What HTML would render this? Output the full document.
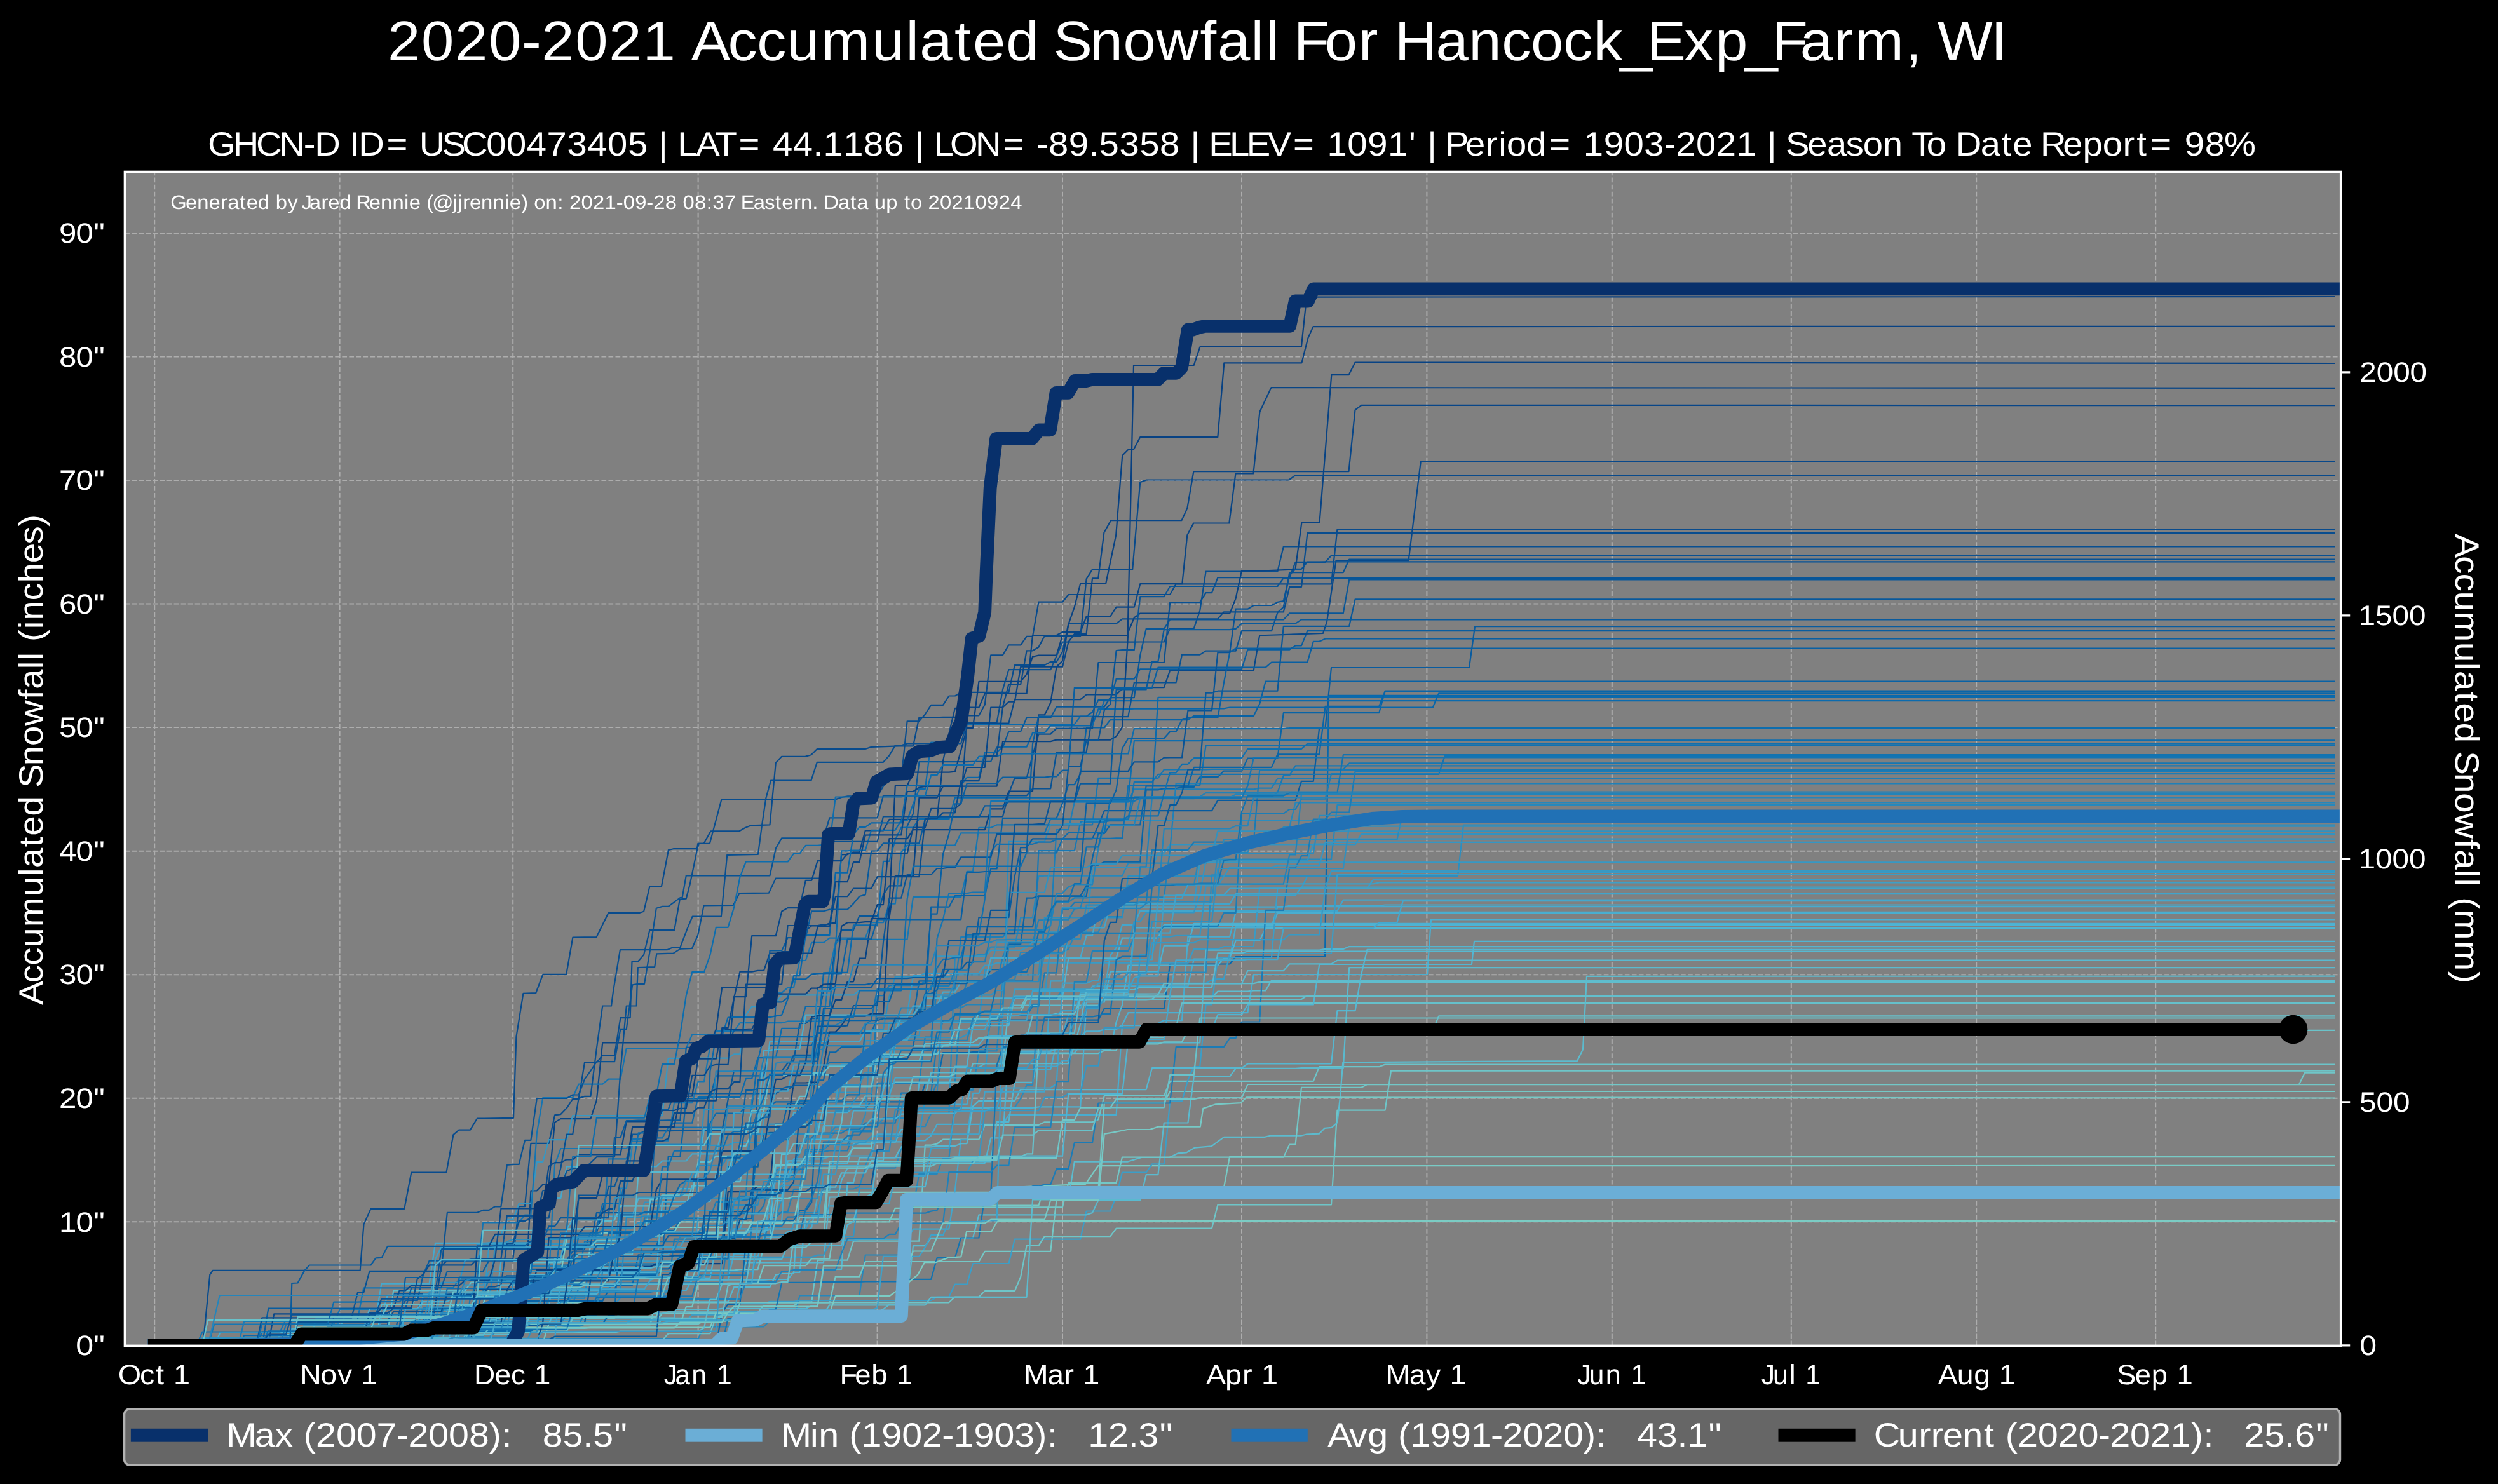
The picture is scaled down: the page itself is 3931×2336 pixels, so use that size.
<!DOCTYPE html>
<html><head><meta charset="utf-8"><title>Accumulated Snowfall</title>
<style>html,body{margin:0;padding:0;background:#000;}svg{display:block;will-change:transform;}text{font-family:"Liberation Sans",sans-serif;white-space:pre;text-rendering:geometricPrecision;}</style></head><body>
<svg width="3931" height="2336" viewBox="0 0 3931 2336">
<rect x="0" y="0" width="3931" height="2336" fill="#000"/>
<defs><clipPath id="ax"><rect x="196.4" y="270.4" width="3487.2" height="1847.9"/></clipPath></defs>
<rect x="196.4" y="270.4" width="3487.2" height="1847.9" fill="#808080"/>
<path d="M243.2 2118.3 V270.4 M534.6 2118.3 V270.4 M807.2 2118.3 V270.4 M1098.6 2118.3 V270.4 M1380.6 2118.3 V270.4 M1672.0 2118.3 V270.4 M1954.0 2118.3 V270.4 M2245.4 2118.3 V270.4 M2536.8 2118.3 V270.4 M2818.8 2118.3 V270.4 M3110.2 2118.3 V270.4 M3392.2 2118.3 V270.4 M196.4 2117.9 H3683.6 M196.4 1923.3 H3683.6 M196.4 1728.8 H3683.6 M196.4 1534.2 H3683.6 M196.4 1339.7 H3683.6 M196.4 1145.1 H3683.6 M196.4 950.5 H3683.6 M196.4 756.0 H3683.6 M196.4 561.4 H3683.6 M196.4 366.9 H3683.6" stroke="#adadad" stroke-width="2" stroke-dasharray="7.7 3.33" fill="none"/>
<g clip-path="url(#ax)" fill="none" stroke-linejoin="round">
<g stroke-width="2.2" stroke-linecap="butt">
<path d="M243.2 2118.3 L656.8 2118.3 L666.2 2095.3 L779.0 2095.3 L788.4 2067.0 L854.2 2067.0 L863.6 2044.0 L920.0 2044.0 L929.4 1967.8 L995.2 1967.8 L1004.6 1947.3 L1032.8 1947.3 L1042.2 1921.0 L1155.0 1921.0 L1164.4 1909.1 L1286.6 1909.1 L1296.0 1871.5 L1343.0 1871.5 L1352.4 1867.8 L1361.8 1838.6 L1408.8 1838.6 L1418.2 1808.5 L1427.6 1773.2 L1455.8 1773.2 L1465.2 1752.7 L1493.4 1752.7 L1502.8 1505.6 L1531.0 1505.6 L1540.4 1502.5 L1549.8 1502.5 L1559.2 1490.6 L1596.8 1490.6 L1606.2 1444.4 L1625.0 1444.4 L1634.4 1379.4 L1643.8 1378.6 L1766.0 1378.6 L1775.4 1358.7 L1897.6 1358.7 L1907.0 1352.7 L2095.0 1352.7 L2104.4 1267.2 L2382.6 1267.2 L3674.2 1267.2" stroke="#2788bc"/>
<path d="M243.2 2118.3 L572.2 2118.3 L581.6 2072.0 L600.4 2072.0 L609.8 2038.9 L619.2 2038.9 L628.6 2038.1 L779.0 2038.1 L788.4 2032.8 L844.8 2032.8 L854.2 2031.0 L1079.8 2031.0 L1089.2 2014.4 L1145.6 2014.4 L1155.0 1973.7 L1183.2 1973.7 L1192.6 1951.3 L1202.0 1951.3 L1211.4 1885.4 L1230.2 1885.4 L1239.6 1802.4 L1249.0 1751.1 L1333.6 1751.1 L1343.0 1742.9 L1427.6 1742.9 L1437.0 1738.5 L1521.6 1738.5 L1531.0 1697.4 L1578.0 1697.4 L1587.4 1683.2 L1653.2 1683.2 L1662.6 1641.7 L1681.4 1641.7 L1690.8 1573.9 L1709.6 1573.9 L1719.0 1552.4 L1869.4 1552.4 L1878.8 1509.6 L1935.2 1509.6 L1944.6 1458.9 L2001.0 1458.9 L2010.4 1427.2 L2198.1 1427.2 L3674.2 1427.2" stroke="#47abcf"/>
<path d="M243.2 2118.3 L666.2 2118.3 L675.6 2082.8 L685.0 2079.2 L844.8 2079.2 L854.2 2075.2 L891.8 2075.2 L901.2 2052.2 L910.6 2028.2 L957.6 2028.2 L967.0 2019.3 L1136.2 2019.3 L1145.6 1946.2 L1155.0 1944.0 L1173.8 1944.0 L1183.2 1931.3 L1192.6 1871.4 L1211.4 1871.4 L1220.8 1841.3 L1258.4 1841.3 L1267.8 1812.8 L1296.0 1812.8 L1305.4 1811.4 L1333.6 1811.4 L1343.0 1781.3 L1371.2 1781.3 L1380.6 1704.8 L1446.4 1704.8 L1455.8 1632.6 L1465.2 1632.6 L1474.6 1556.3 L1502.8 1556.3 L1512.2 1475.2 L1578.0 1475.2 L1587.4 1464.2 L1643.8 1464.2 L1653.2 1456.8 L1662.6 1306.2 L1681.4 1306.2 L1690.8 1262.6 L1775.4 1262.6 L1784.8 1242.3 L1972.8 1242.3 L1982.2 1240.6 L2001.0 1240.6 L2010.4 1225.5 L2262.3 1225.5 L3674.2 1225.5" stroke="#1e7eb7"/>
<path d="M243.2 2118.3 L600.4 2118.3 L609.8 2091.8 L628.6 2091.8 L638.0 2061.1 L656.8 2061.1 L666.2 2043.9 L816.6 2043.9 L826.0 2012.7 L835.4 1997.8 L873.0 1997.8 L882.4 1991.6 L1042.2 1991.6 L1051.6 1820.8 L1070.4 1820.8 L1079.8 1729.4 L1108.0 1729.4 L1117.4 1727.7 L1126.8 1693.4 L1202.0 1693.4 L1211.4 1645.9 L1277.2 1645.9 L1286.6 1625.9 L1371.2 1625.9 L1380.6 1602.5 L1437.0 1602.5 L1446.4 1544.3 L1521.6 1544.3 L1531.0 1543.6 L1549.8 1543.6 L1559.2 1526.2 L1578.0 1526.2 L1587.4 1486.4 L1606.2 1486.4 L1615.6 1413.7 L1625.0 1413.7 L1634.4 1410.4 L1700.2 1410.4 L1709.6 1394.6 L1719.0 1361.6 L1728.4 1361.6 L1737.8 1356.7 L1794.2 1356.7 L1803.6 1243.4 L1822.4 1243.4 L1831.8 1241.0 L1850.6 1241.0 L1860.0 1238.9 L1878.8 1238.9 L1888.2 1223.2 L1916.4 1223.2 L1925.8 1213.6 L1954.0 1213.6 L1963.4 1193.5 L2010.4 1193.5 L2019.8 1122.2 L2170.2 1122.2 L2179.6 1087.5 L2424.0 1087.5 L3674.2 1087.5" stroke="#0864a7"/>
<path d="M243.2 2118.3 L581.6 2118.3 L591.0 2108.7 L600.4 2085.6 L609.8 2085.6 L619.2 2036.5 L685.0 2036.5 L694.4 1966.2 L835.4 1966.2 L844.8 1965.9 L920.0 1965.9 L929.4 1940.6 L938.8 1940.6 L948.2 1906.2 L957.6 1867.8 L967.0 1867.8 L976.4 1842.9 L985.8 1842.9 L995.2 1785.6 L1004.6 1785.6 L1014.0 1780.1 L1051.6 1780.1 L1061.0 1779.9 L1136.2 1779.9 L1145.6 1731.4 L1155.0 1685.4 L1230.2 1685.4 L1239.6 1673.4 L1249.0 1669.8 L1258.4 1611.0 L1267.8 1611.0 L1277.2 1603.2 L1286.6 1603.2 L1296.0 1560.7 L1305.4 1560.7 L1314.8 1487.0 L1324.2 1464.1 L1343.0 1464.1 L1352.4 1441.8 L1380.6 1441.8 L1390.0 1408.3 L1399.4 1394.4 L1418.2 1394.4 L1427.6 1300.5 L1437.0 1280.9 L1446.4 1199.1 L1521.6 1199.1 L1531.0 1198.8 L1559.2 1198.8 L1568.6 1176.3 L1578.0 1176.3 L1587.4 1151.4 L1606.2 1151.4 L1615.6 1130.0 L1653.2 1130.0 L1662.6 1112.7 L1737.8 1112.7 L1747.2 1098.2 L1784.8 1098.2 L1794.2 1031.7 L1803.6 989.9 L1831.8 989.9 L1841.2 975.4 L2019.8 975.4 L2029.2 965.4 L2113.8 965.4 L2123.2 912.4 L2325.3 912.4 L3674.2 912.4" stroke="#085799"/>
<path d="M243.2 2118.3 L553.4 2118.3 L562.8 2111.1 L675.6 2111.1 L685.0 2080.5 L807.2 2080.5 L816.6 2043.3 L826.0 2043.3 L835.4 2030.6 L844.8 2030.6 L854.2 2010.0 L910.6 2010.0 L920.0 1954.4 L985.8 1954.4 L995.2 1954.2 L1098.6 1954.2 L1108.0 1952.8 L1117.4 1952.2 L1136.2 1952.2 L1145.6 1918.1 L1155.0 1918.1 L1164.4 1910.1 L1192.6 1910.1 L1202.0 1897.7 L1211.4 1849.8 L1249.0 1849.8 L1258.4 1799.6 L1267.8 1799.6 L1277.2 1745.4 L1361.8 1745.4 L1371.2 1733.4 L1380.6 1567.2 L1390.0 1567.2 L1399.4 1551.1 L1446.4 1551.1 L1455.8 1544.4 L1625.0 1544.4 L1634.4 1339.2 L1690.8 1339.2 L1700.2 1294.2 L1737.8 1294.2 L1747.2 1291.5 L1775.4 1291.5 L1784.8 1254.4 L2001.0 1254.4 L2010.4 1247.3 L2019.8 1220.8 L2029.2 1220.8 L2038.6 1205.3 L2273.5 1205.3 L3674.2 1205.3" stroke="#1878b4"/>
<path d="M243.2 2118.3 L337.2 2118.3 L346.6 2109.2 L534.6 2109.2 L544.0 2103.6 L685.0 2103.6 L694.4 2101.5 L741.4 2101.5 L750.8 1958.0 L929.4 1958.0 L938.8 1954.5 L995.2 1954.5 L1004.6 1940.8 L1014.0 1892.6 L1098.6 1892.6 L1108.0 1873.1 L1117.4 1802.8 L1145.6 1802.8 L1155.0 1799.0 L1202.0 1799.0 L1211.4 1769.7 L1277.2 1769.7 L1286.6 1719.6 L1352.4 1719.6 L1361.8 1638.2 L1399.4 1638.2 L1408.8 1633.2 L1512.2 1633.2 L1521.6 1628.6 L1531.0 1610.6 L1540.4 1610.6 L1549.8 1527.2 L1559.2 1527.2 L1568.6 1483.4 L1643.8 1483.4 L1653.2 1467.4 L1709.6 1467.4 L1719.0 1365.7 L1813.0 1365.7 L1822.4 1342.7 L1831.8 1342.7 L1841.2 1329.5 L2132.6 1329.5 L2142.0 1313.1 L2207.1 1313.1 L3674.2 1313.1" stroke="#3193c2"/>
<path d="M243.2 2118.3 L309.0 2118.3 L318.4 2117.2 L327.8 2117.2 L337.2 2084.6 L525.2 2084.6 L534.6 2061.0 L750.8 2061.0 L760.2 2032.0 L769.6 2015.4 L863.6 2015.4 L873.0 1833.7 L882.4 1808.0 L985.8 1808.0 L995.2 1796.6 L1014.0 1796.6 L1023.4 1795.7 L1051.6 1795.7 L1061.0 1736.1 L1089.2 1736.1 L1098.6 1702.4 L1108.0 1702.4 L1117.4 1647.3 L1126.8 1623.1 L1155.0 1623.1 L1164.4 1610.2 L1230.2 1610.2 L1239.6 1607.7 L1296.0 1607.7 L1305.4 1527.9 L1314.8 1483.8 L1324.2 1478.8 L1427.6 1478.8 L1437.0 1412.2 L1512.2 1412.2 L1521.6 1371.9 L1531.0 1371.9 L1540.4 1302.9 L1559.2 1302.9 L1568.6 1298.4 L1719.0 1298.4 L1728.4 1224.8 L1822.4 1224.8 L1831.8 1211.4 L1897.6 1211.4 L1907.0 1210.9 L2113.8 1210.9 L2123.2 1201.4 L2325.8 1201.4 L3674.2 1201.4" stroke="#1677b3"/>
<path d="M243.2 2118.3 L562.8 2118.3 L572.2 2095.3 L600.4 2095.3 L609.8 2090.0 L694.4 2090.0 L703.8 2061.6 L779.0 2061.6 L788.4 1985.3 L835.4 1985.3 L844.8 1982.5 L938.8 1982.5 L948.2 1978.1 L1192.6 1978.1 L1202.0 1947.7 L1230.2 1947.7 L1239.6 1938.4 L1267.8 1938.4 L1277.2 1932.3 L1286.6 1883.2 L1296.0 1874.4 L1305.4 1874.4 L1314.8 1797.4 L1427.6 1797.4 L1437.0 1795.3 L1455.8 1795.3 L1465.2 1787.6 L1474.6 1769.8 L1578.0 1769.8 L1587.4 1755.2 L1756.6 1755.2 L1766.0 1614.2 L1813.0 1614.2 L1822.4 1611.0 L1831.8 1606.1 L1860.0 1606.1 L1869.4 1474.6 L1935.2 1474.6 L1944.6 1435.8 L2394.5 1435.8 L3674.2 1435.8" stroke="#48accf"/>
<path d="M243.2 2118.3 L403.0 2118.3 L412.4 2096.3 L713.2 2096.3 L722.6 2056.3 L732.0 2056.3 L741.4 2055.5 L769.6 2055.5 L779.0 2052.8 L891.8 2052.8 L901.2 2022.9 L995.2 2022.9 L1004.6 1975.3 L1023.4 1975.3 L1032.8 1961.1 L1042.2 1936.8 L1061.0 1936.8 L1070.4 1918.2 L1173.8 1918.2 L1183.2 1917.8 L1192.6 1760.5 L1202.0 1760.5 L1211.4 1741.9 L1220.8 1734.4 L1446.4 1734.4 L1455.8 1706.2 L1474.6 1706.2 L1484.0 1657.2 L1521.6 1657.2 L1531.0 1656.2 L1549.8 1656.2 L1559.2 1605.6 L1728.4 1605.6 L1737.8 1587.6 L1831.8 1587.6 L1841.2 1517.5 L1935.2 1517.5 L1944.6 1506.0 L1975.0 1506.0 L2085.0 1506.0 L2091.0 1094.8 L3674.2 1094.8" stroke="#0868ac"/>
<path d="M243.2 2118.3 L713.2 2118.3 L722.6 2081.7 L769.6 2081.7 L779.0 2074.2 L807.2 2074.2 L816.6 2051.3 L844.8 2051.3 L854.2 2042.6 L863.6 1985.4 L1089.2 1985.4 L1098.6 1975.2 L1108.0 1944.5 L1126.8 1944.5 L1136.2 1857.7 L1192.6 1857.7 L1202.0 1856.8 L1239.6 1856.8 L1249.0 1839.3 L1258.4 1839.3 L1267.8 1828.0 L1277.2 1828.0 L1286.6 1768.0 L1296.0 1768.0 L1305.4 1695.3 L1399.4 1695.3 L1408.8 1645.7 L1418.2 1596.8 L1427.6 1596.8 L1437.0 1536.0 L1446.4 1536.0 L1455.8 1532.0 L1540.4 1532.0 L1549.8 1519.5 L1559.2 1519.5 L1568.6 1515.7 L1869.4 1515.7 L1878.8 1493.9 L1916.4 1493.9 L1925.8 1490.0 L1972.8 1490.0 L1982.2 1398.2 L2048.0 1398.2 L2057.4 1379.1 L2198.4 1379.1 L2207.8 1373.0 L2424.0 1373.0 L3674.2 1373.0" stroke="#389bc6"/>
<path d="M243.2 2118.3 L319.3 2118.3 L330.3 2006.4 L334.7 1999.8 L566.7 1999.8 L572.5 1927.1 L583.5 1902.9 L636.3 1902.9 L647.3 1845.7 L702.4 1845.7 L713.4 1786.2 L722.2 1778.7 L739.8 1778.7 L750.8 1760.7 L808.0 1759.8 L812.4 1632.1 L823.4 1563.8 L843.3 1563.0 L854.3 1533.9 L891.2 1533.7 L901.4 1475.5 L938.7 1475.0 L957.3 1437.2 L1005.4 1437.2 L1013.1 1434.7 L1022.4 1395.3 L1041.0 1395.3 L1051.9 1338.0 L1059.6 1336.2 L1096.8 1336.2 L1098.3 1327.8 L1107.6 1327.8 L1118.5 1308.3 L1163.4 1308.3 L1172.7 1303.0 L1182.0 1299.3 L1211.5 1298.3 L1220.8 1200.7 L1230.1 1190.8 L1267.2 1190.8 L1276.5 1188.3 L1285.8 1179.0 L1361.8 1179.0 L1371.1 1175.9 L1414.5 1174.4 L1437.0 1174.4 L1446.4 1129.3 L1474.6 1129.3 L1484.0 1128.8 L1512.2 1128.8 L1521.6 1126.3 L1540.4 1126.3 L1549.8 1109.2 L1559.2 1031.3 L1578.0 1031.3 L1587.4 1015.3 L1606.2 1015.3 L1615.6 1001.9 L1625.0 1001.9 L1634.4 947.7 L1672.0 947.7 L1681.4 936.0 L1841.2 936.0 L1850.6 919.3 L2095.0 919.3 L2104.4 833.6 L2230.0 833.6 L3674.2 833.6" stroke="#084b8d"/>
<path d="M243.2 2118.3 L732.0 2118.3 L741.4 2094.8 L750.8 2079.2 L1032.8 2079.2 L1042.2 2067.5 L1079.8 2067.5 L1089.2 2066.8 L1126.8 2066.8 L1136.2 2065.7 L1192.6 2065.7 L1202.0 2055.5 L1249.0 2055.5 L1258.4 2049.3 L1277.2 2049.3 L1286.6 1983.7 L1333.6 1983.7 L1343.0 1953.6 L1446.4 1953.6 L1455.8 1802.6 L1465.2 1802.6 L1474.6 1800.5 L1484.0 1793.7 L1540.4 1793.7 L1549.8 1770.8 L1634.4 1770.8 L1643.8 1766.3 L1719.0 1766.3 L1728.4 1762.2 L1737.8 1724.9 L1831.8 1724.9 L1841.2 1701.9 L2066.8 1701.9 L2076.2 1679.2 L2170.2 1679.2 L2179.6 1675.6 L2339.8 1675.6 L3674.2 1675.6" stroke="#6cc4c9"/>
<path d="M243.2 2118.3 L431.2 2118.3 L440.6 2107.2 L1098.6 2107.2 L1108.0 2088.3 L1202.0 2088.3 L1211.4 2078.8 L1249.0 2078.8 L1258.4 2039.4 L1352.4 2039.4 L1361.8 1975.5 L1418.2 1975.5 L1427.6 1951.6 L1437.0 1900.2 L1446.4 1847.9 L1474.6 1847.9 L1484.0 1823.1 L1493.4 1823.1 L1502.8 1733.1 L1512.2 1715.8 L1531.0 1715.8 L1540.4 1654.4 L1568.6 1654.4 L1578.0 1542.4 L1596.8 1542.4 L1606.2 1499.0 L1672.0 1499.0 L1681.4 1494.0 L1690.8 1472.5 L1700.2 1467.5 L1728.4 1467.5 L1737.8 1443.2 L1766.0 1443.2 L1775.4 1393.9 L1878.8 1393.9 L1888.2 1341.6 L1963.4 1341.6 L1972.8 1315.9 L2010.4 1315.9 L2019.8 1302.0 L2029.2 1302.0 L2038.6 1263.3 L2349.2 1263.3 L3674.2 1263.3" stroke="#2687bb"/>
<path d="M243.2 2118.3 L450.0 2118.3 L459.4 2096.6 L609.8 2096.6 L619.2 2088.7 L656.8 2088.7 L666.2 2059.2 L807.2 2059.2 L816.6 1993.1 L901.2 1993.1 L910.6 1992.6 L920.0 1989.4 L1089.2 1989.4 L1098.6 1954.7 L1202.0 1954.7 L1211.4 1918.5 L1220.8 1915.7 L1230.2 1907.9 L1239.6 1907.9 L1249.0 1871.8 L1258.4 1871.8 L1267.8 1809.4 L1296.0 1809.4 L1305.4 1802.0 L1333.6 1802.0 L1343.0 1780.2 L1371.2 1780.2 L1380.6 1741.5 L1427.6 1741.5 L1437.0 1726.7 L1465.2 1726.7 L1474.6 1703.8 L1502.8 1703.8 L1512.2 1574.7 L1521.6 1546.1 L1568.6 1546.1 L1578.0 1506.4 L1587.4 1484.1 L1625.0 1484.1 L1634.4 1448.3 L1643.8 1448.3 L1653.2 1435.9 L1662.6 1420.1 L1681.4 1420.1 L1690.8 1413.4 L1709.6 1413.4 L1719.0 1412.4 L1831.8 1412.4 L1841.2 1337.6 L1850.6 1233.3 L2381.0 1233.3 L3674.2 1233.3" stroke="#1f80b8"/>
<path d="M243.2 2118.3 L459.4 2118.3 L468.8 2114.2 L647.4 2114.2 L656.8 2092.4 L722.6 2092.4 L732.0 2087.1 L779.0 2087.1 L788.4 2052.0 L826.0 2052.0 L835.4 1874.3 L844.8 1874.3 L854.2 1864.6 L863.6 1864.6 L873.0 1766.6 L882.4 1761.1 L929.4 1761.1 L938.8 1732.2 L948.2 1641.3 L1117.4 1641.3 L1126.8 1620.6 L1136.2 1554.0 L1211.4 1554.0 L1220.8 1535.4 L1230.2 1498.1 L1258.4 1498.1 L1267.8 1464.8 L1277.2 1457.3 L1296.0 1457.3 L1305.4 1453.2 L1314.8 1453.2 L1324.2 1345.1 L1333.6 1345.1 L1343.0 1341.3 L1352.4 1341.3 L1361.8 1307.4 L1390.0 1307.4 L1399.4 1289.8 L1474.6 1289.8 L1484.0 1197.8 L1493.4 1154.6 L1502.8 1114.9 L1512.2 1114.9 L1521.6 1113.7 L1540.4 1113.7 L1549.8 1091.9 L1615.6 1091.9 L1625.0 1000.0 L1662.6 1000.0 L1672.0 995.1 L1700.2 995.1 L1709.6 970.5 L1747.2 970.5 L1756.6 955.7 L1784.8 955.7 L1794.2 919.2 L1832.3 919.2 L1860.3 919.2 L1868.3 842.3 L1878.3 823.5 L1934.3 823.5 L1944.4 745.5 L1972.4 745.5 L1982.4 648.2 L2000.4 610.1 L3674.2 610.9" stroke="#084586"/>
<path d="M243.2 2118.3 L506.4 2118.3 L515.8 2090.5 L534.6 2090.5 L544.0 2069.4 L703.8 2069.4 L713.2 2055.1 L854.2 2055.1 L863.6 2018.6 L920.0 2018.6 L929.4 1959.2 L1004.6 1959.2 L1014.0 1945.4 L1042.2 1945.4 L1051.6 1932.0 L1145.6 1932.0 L1155.0 1925.0 L1249.0 1925.0 L1258.4 1876.9 L1596.8 1876.9 L1606.2 1868.2 L1611.4 1868.2 L1708.2 1863.8 L1728.0 1835.2 L3674.2 1834.9" stroke="#79cbc5"/>
<path d="M243.2 2118.3 L675.6 2118.3 L685.0 2054.4 L694.4 1992.7 L703.8 1984.4 L732.0 1984.4 L741.4 1982.4 L807.2 1982.4 L816.6 1899.1 L826.0 1899.1 L835.4 1799.9 L863.6 1799.9 L873.0 1755.4 L882.4 1754.1 L891.8 1744.3 L901.2 1730.0 L910.6 1730.0 L920.0 1672.5 L938.8 1672.5 L948.2 1661.4 L967.0 1661.4 L976.4 1602.1 L991.7 1602.1 L993.0 1559.9 L994.5 1513.7 L1003.8 1513.7 L1013.1 1502.9 L1022.4 1464.1 L1061.2 1464.1 L1069.8 1415.5 L1079.8 1414.6 L1085.9 1391.3 L1096.8 1338.6 L1099.9 1327.8 L1116.9 1327.8 L1135.5 1258.1 L1315.3 1258.1 L1324.6 1255.0 L1333.9 1253.4 L1380.6 1253.4 L1390.0 1237.6 L1399.4 1226.5 L1418.2 1226.5 L1427.6 1135.3 L1446.4 1135.3 L1455.8 1124.4 L1465.2 1109.8 L1484.0 1109.8 L1493.4 1095.5 L1502.8 1095.5 L1512.2 1089.9 L1587.4 1089.9 L1596.8 1047.0 L1643.8 1047.0 L1653.2 1041.9 L1662.6 1041.9 L1672.0 1026.0 L1681.4 981.7 L1756.6 981.7 L1766.0 974.3 L1916.4 974.3 L1925.8 963.4 L2019.8 963.4 L2029.2 924.0 L2048.0 924.0 L2057.4 839.1 L2201.0 839.1 L3674.2 839.1" stroke="#084d8f"/>
<path d="M243.2 2118.3 L525.2 2118.3 L534.6 2071.3 L675.6 2071.3 L685.0 2059.9 L854.2 2059.9 L863.6 2057.8 L873.0 2057.8 L882.4 2054.7 L910.6 2054.7 L920.0 2054.4 L967.0 2054.4 L976.4 2042.7 L1023.4 2042.7 L1032.8 2039.4 L1042.2 2039.4 L1051.6 2030.5 L1061.0 2030.5 L1070.4 1974.5 L1117.4 1974.5 L1126.8 1963.9 L1164.4 1963.9 L1173.8 1959.1 L1183.2 1959.1 L1192.6 1951.9 L1211.4 1951.9 L1220.8 1914.7 L1230.2 1886.8 L1286.6 1886.8 L1296.0 1812.3 L1305.4 1793.7 L1314.8 1779.3 L1352.4 1779.3 L1361.8 1754.4 L1371.2 1620.1 L1390.0 1620.1 L1399.4 1568.7 L1408.8 1537.6 L1493.4 1537.6 L1502.8 1534.4 L1634.4 1534.4 L1643.8 1444.3 L1766.0 1444.3 L1775.4 1379.0 L2200.0 1379.0 L2294.0 1379.0 L2303.0 1298.7 L3674.2 1298.7" stroke="#2d8ebf"/>
<path d="M243.2 2118.3 L685.0 2118.3 L694.4 2112.1 L722.6 2112.1 L732.0 2103.9 L760.2 2103.9 L769.6 2055.6 L779.0 1961.4 L788.4 1961.4 L797.8 1954.5 L807.2 1951.0 L882.4 1951.0 L891.8 1950.7 L938.8 1950.7 L948.2 1932.8 L995.2 1932.8 L1004.6 1924.5 L1061.0 1924.5 L1070.4 1911.5 L1079.8 1911.5 L1089.2 1886.6 L1220.8 1886.6 L1230.2 1851.5 L1239.6 1851.5 L1249.0 1828.9 L1258.4 1816.0 L1267.8 1792.7 L1305.4 1792.7 L1314.8 1749.0 L1333.6 1749.0 L1343.0 1734.2 L1352.4 1721.2 L1371.2 1721.2 L1380.6 1661.9 L1399.4 1661.9 L1408.8 1606.7 L1549.8 1606.7 L1559.2 1601.1 L1578.0 1601.1 L1587.4 1324.8 L1643.8 1324.8 L1653.2 1298.2 L1672.0 1298.2 L1681.4 1296.8 L1700.2 1296.8 L1709.6 1291.7 L2068.6 1291.7 L3674.2 1291.7" stroke="#2c8dbe"/>
<path d="M243.2 2118.3 L619.2 2118.3 L628.6 2113.5 L694.4 2113.5 L703.8 2084.5 L722.6 2084.5 L732.0 2083.6 L741.4 2083.6 L750.8 2059.1 L769.6 2059.1 L779.0 2053.9 L873.0 2053.9 L882.4 2050.5 L1305.4 2050.5 L1314.8 2009.6 L1352.4 2009.6 L1361.8 1986.0 L1540.4 1986.0 L1549.8 1969.9 L1653.2 1969.9 L1662.6 1888.6 L1681.4 1888.6 L1690.8 1873.5 L1728.4 1873.5 L1737.8 1736.3 L1831.8 1736.3 L1841.2 1718.0 L2423.6 1718.0 L3674.2 1718.0" stroke="#74c8c6"/>
<path d="M243.2 2118.3 L487.6 2118.3 L497.0 2076.3 L591.0 2076.3 L600.4 2020.6 L675.6 2020.6 L685.0 1956.9 L835.4 1956.9 L844.8 1893.4 L854.2 1893.4 L863.6 1886.1 L882.4 1886.1 L891.8 1836.5 L1032.8 1836.5 L1042.2 1827.5 L1079.8 1827.5 L1089.2 1816.4 L1126.8 1816.4 L1136.2 1778.7 L1192.6 1778.7 L1202.0 1712.2 L1211.4 1639.9 L1352.4 1639.9 L1361.8 1623.4 L1390.0 1623.4 L1399.4 1622.2 L1408.8 1622.2 L1418.2 1601.7 L1427.6 1601.7 L1437.0 1583.7 L1446.4 1583.7 L1455.8 1583.0 L1474.6 1583.0 L1484.0 1561.6 L1502.8 1561.6 L1512.2 1545.5 L1549.8 1545.5 L1559.2 1507.9 L1700.2 1507.9 L1709.6 1472.7 L1719.0 1472.7 L1728.4 1427.7 L1888.2 1427.7 L1897.6 1427.7 L2019.8 1427.7 L2029.2 1425.8 L2170.2 1425.8 L2179.6 1424.5 L2364.0 1424.5 L3674.2 1424.5" stroke="#45a9ce"/>
<path d="M243.2 2118.3 L591.0 2118.3 L600.4 2053.9 L647.4 2053.9 L656.8 2040.6 L826.0 2040.6 L835.4 1987.4 L882.4 1987.4 L891.8 1934.4 L938.8 1934.4 L948.2 1922.2 L957.6 1922.2 L967.0 1920.3 L976.4 1898.3 L1079.8 1898.3 L1089.2 1866.5 L1145.6 1866.5 L1155.0 1860.2 L1164.4 1860.2 L1173.8 1824.2 L1192.6 1824.2 L1202.0 1784.6 L1296.0 1784.6 L1305.4 1709.3 L1399.4 1709.3 L1408.8 1703.6 L1521.6 1703.6 L1531.0 1674.2 L1578.0 1674.2 L1587.4 1586.5 L1596.8 1582.5 L1728.4 1582.5 L1737.8 1569.5 L1907.0 1569.5 L1916.4 1560.6 L1963.4 1560.6 L1972.8 1559.4 L1991.6 1559.4 L2001.0 1543.2 L2424.0 1543.2 L3674.2 1543.2" stroke="#5ebcce"/>
<path d="M243.2 2118.3 L656.8 2118.3 L666.2 2118.3 L675.6 2095.7 L732.0 2095.7 L741.4 2034.0 L1023.4 2034.0 L1032.8 2032.2 L1051.6 2032.2 L1061.0 1950.7 L1145.6 1950.7 L1155.0 1889.2 L1173.8 1889.2 L1183.2 1886.2 L1192.6 1886.2 L1202.0 1884.5 L1211.4 1878.1 L1230.2 1878.1 L1239.6 1840.5 L1267.8 1840.5 L1277.2 1790.6 L1286.6 1783.6 L1324.2 1783.6 L1333.6 1777.7 L1352.4 1777.7 L1361.8 1767.6 L1408.8 1767.6 L1418.2 1720.7 L1465.2 1720.7 L1474.6 1640.3 L1484.0 1606.2 L1493.4 1606.2 L1502.8 1598.6 L1615.6 1598.6 L1625.0 1584.1 L1634.4 1584.1 L1643.8 1531.4 L1662.6 1531.4 L1672.0 1431.2 L1681.4 1431.2 L1690.8 1420.8 L1803.6 1420.8 L1813.0 1337.9 L1869.4 1337.9 L1878.8 1325.6 L1972.8 1325.6 L1982.2 1211.9 L2325.1 1211.9 L3674.2 1211.9" stroke="#197ab5"/>
<path d="M243.2 2118.3 L412.4 2118.3 L421.8 2117.2 L591.0 2117.2 L600.4 2069.1 L675.6 2069.1 L685.0 2062.7 L760.2 2062.7 L769.6 1959.1 L779.0 1944.0 L788.4 1944.0 L797.8 1919.8 L807.2 1919.8 L816.6 1894.9 L835.4 1894.9 L844.8 1829.0 L854.2 1829.0 L863.6 1794.2 L891.8 1794.2 L901.2 1756.2 L1042.2 1756.2 L1051.6 1665.8 L1079.8 1665.8 L1089.2 1665.7 L1145.6 1665.7 L1155.0 1659.4 L1164.4 1659.4 L1173.8 1597.6 L1183.2 1584.5 L1192.6 1584.5 L1202.0 1578.8 L1220.8 1578.8 L1230.2 1566.4 L1343.0 1566.4 L1352.4 1558.8 L1399.4 1558.8 L1408.8 1557.1 L1465.2 1557.1 L1474.6 1505.4 L1549.8 1505.4 L1559.2 1495.9 L1606.2 1495.9 L1615.6 1491.6 L1625.0 1482.7 L1662.6 1482.7 L1672.0 1428.3 L1719.0 1428.3 L1728.4 1424.1 L1878.8 1424.1 L1888.2 1357.4 L2384.1 1357.4 L3674.2 1357.4" stroke="#3698c4"/>
<path d="M243.2 2118.3 L431.2 2118.3 L440.6 2115.4 L600.4 2115.4 L609.8 2110.9 L619.2 2110.9 L628.6 2063.5 L638.0 2047.0 L656.8 2047.0 L666.2 2006.1 L675.6 1984.6 L807.2 1984.6 L816.6 1980.2 L882.4 1980.2 L891.8 1959.7 L929.4 1959.7 L938.8 1909.1 L1023.4 1909.1 L1032.8 1746.5 L1051.6 1746.5 L1061.0 1721.5 L1220.8 1721.5 L1230.2 1715.3 L1239.6 1715.3 L1249.0 1708.6 L1277.2 1708.6 L1286.6 1554.0 L1371.2 1554.0 L1380.6 1540.1 L1427.6 1540.1 L1437.0 1539.0 L1484.0 1539.0 L1493.4 1526.0 L1512.2 1526.0 L1521.6 1514.9 L1531.0 1514.9 L1540.4 1444.2 L1587.4 1444.2 L1596.8 1379.6 L1606.2 1334.2 L1615.6 1334.2 L1625.0 1320.3 L1719.0 1320.3 L1728.4 1299.4 L1737.8 1276.2 L1907.0 1276.2 L1916.4 1259.9 L2038.6 1259.9 L2048.0 1229.8 L2066.8 1229.8 L2076.2 1145.3 L2085.6 1145.3 L2095.0 1051.0 L2230.0 1051.0 L2312.0 1051.0 L2321.0 986.1 L3674.2 986.1" stroke="#085b9f"/>
<path d="M243.2 2118.3 L468.8 2118.3 L478.2 2114.2 L581.6 2114.2 L591.0 2109.5 L609.8 2109.5 L619.2 2102.5 L656.8 2102.5 L666.2 2078.2 L675.6 2078.2 L685.0 2059.5 L722.6 2059.5 L732.0 2056.6 L779.0 2056.6 L788.4 2038.7 L797.8 2038.7 L807.2 2033.2 L816.6 2033.2 L826.0 2018.4 L901.2 2018.4 L910.6 2008.6 L929.4 2008.6 L938.8 1932.2 L948.2 1894.9 L976.4 1894.9 L985.8 1841.7 L995.2 1841.7 L1004.6 1783.3 L1014.0 1783.3 L1023.4 1774.5 L1051.6 1774.5 L1061.0 1767.7 L1089.2 1767.7 L1098.6 1726.9 L1164.4 1726.9 L1173.8 1697.9 L1183.2 1697.9 L1192.6 1665.2 L1220.8 1665.2 L1230.2 1618.8 L1258.4 1618.8 L1267.8 1584.0 L1305.4 1584.0 L1314.8 1492.3 L1324.2 1339.4 L1333.6 1339.4 L1343.0 1338.5 L1361.8 1338.5 L1371.2 1306.8 L1408.8 1306.8 L1418.2 1291.3 L1427.6 1291.3 L1437.0 1265.4 L1446.4 1242.2 L1455.8 1242.2 L1465.2 1168.5 L1493.4 1168.5 L1502.8 1155.6 L1512.2 1155.6 L1521.6 1140.2 L1690.8 1140.2 L1700.2 1127.7 L1728.4 1127.7 L1737.8 1103.2 L2131.7 1103.2 L3674.2 1103.2" stroke="#0b6bae"/>
<path d="M243.2 2118.3 L337.2 2118.3 L346.6 2097.0 L628.6 2097.0 L638.0 2068.7 L844.8 2068.7 L854.2 2061.0 L863.6 2061.0 L873.0 1981.1 L882.4 1981.1 L891.8 1934.3 L901.2 1920.1 L948.2 1920.1 L957.6 1914.5 L995.2 1914.5 L1004.6 1886.4 L1061.0 1886.4 L1070.4 1871.2 L1089.2 1871.2 L1098.6 1841.1 L1108.0 1777.7 L1164.4 1777.7 L1173.8 1770.4 L1192.6 1770.4 L1202.0 1654.0 L1211.4 1654.0 L1220.8 1651.9 L1258.4 1651.9 L1267.8 1597.6 L1437.0 1597.6 L1446.4 1585.1 L1455.8 1571.4 L1728.4 1571.4 L1737.8 1561.8 L1775.4 1561.8 L1784.8 1460.5 L2001.0 1460.5 L2010.4 1437.2 L2118.7 1437.2 L3674.2 1437.2" stroke="#49aed0"/>
<path d="M243.2 2118.3 L431.2 2118.3 L440.6 2101.0 L609.8 2101.0 L619.2 2031.3 L732.0 2031.3 L741.4 2018.7 L788.4 2018.7 L797.8 2016.9 L816.6 2016.9 L826.0 1996.7 L835.4 1996.7 L844.8 1962.5 L929.4 1962.5 L938.8 1952.8 L985.8 1952.8 L995.2 1947.3 L1014.0 1947.3 L1023.4 1888.5 L1032.8 1888.5 L1042.2 1881.3 L1089.2 1881.3 L1098.6 1829.0 L1117.4 1829.0 L1126.8 1819.8 L1155.0 1819.8 L1164.4 1803.8 L1173.8 1803.8 L1183.2 1783.0 L1192.6 1783.0 L1202.0 1747.6 L1211.4 1691.6 L1399.4 1691.6 L1408.8 1646.3 L1493.4 1646.3 L1502.8 1620.6 L1521.6 1620.6 L1531.0 1616.1 L1540.4 1594.1 L1606.2 1594.1 L1615.6 1573.0 L2048.0 1573.0 L2057.4 1567.1 L2212.1 1567.1 L3674.2 1567.1" stroke="#62becc"/>
<path d="M243.2 2118.3 L732.0 2118.3 L741.4 2053.5 L760.2 2053.5 L769.6 2029.3 L835.4 2029.3 L844.8 2018.2 L863.6 2018.2 L873.0 2006.5 L882.4 2006.5 L891.8 1949.1 L938.8 1949.1 L948.2 1940.6 L967.0 1940.6 L976.4 1939.2 L1061.0 1939.2 L1070.4 1923.5 L1267.8 1923.5 L1277.2 1923.4 L1399.4 1923.4 L1408.8 1901.8 L1427.6 1901.8 L1437.0 1897.6 L1634.4 1897.6 L1643.8 1868.2 L1708.2 1868.2 L1926.2 1868.2 L1935.0 1821.1 L3674.2 1821.1" stroke="#77cac5"/>
<path d="M243.2 2118.3 L591.0 2118.3 L600.4 2089.8 L656.8 2089.8 L666.2 2037.3 L826.0 2037.3 L835.4 2009.3 L1004.6 2009.3 L1014.0 1974.8 L1051.6 1974.8 L1061.0 1964.1 L1249.0 1964.1 L1258.4 1952.5 L1343.0 1952.5 L1352.4 1950.9 L1427.6 1950.9 L1437.0 1934.7 L1493.4 1934.7 L1502.8 1873.8 L1512.2 1794.2 L1521.6 1794.2 L1531.0 1720.8 L1540.4 1720.8 L1549.8 1694.6 L1568.6 1694.6 L1578.0 1656.2 L1653.2 1656.2 L1662.6 1630.8 L1672.0 1630.8 L1681.4 1596.7 L1690.8 1596.7 L1700.2 1562.7 L1737.8 1562.7 L1747.2 1504.0 L1756.6 1491.9 L1766.0 1455.9 L1784.8 1455.9 L1794.2 1433.8 L2104.4 1433.8 L2113.8 1416.7 L2285.0 1416.7 L3674.2 1416.7" stroke="#42a6cc"/>
<path d="M243.2 2118.3 L497.0 2118.3 L506.4 2117.0 L685.0 2117.0 L694.4 2112.6 L741.4 2112.6 L750.8 2029.4 L797.8 2029.4 L807.2 2029.3 L835.4 2029.3 L844.8 1998.9 L1004.6 1998.9 L1014.0 1994.1 L1023.4 1994.1 L1032.8 1989.2 L1136.2 1989.2 L1145.6 1876.1 L1173.8 1876.1 L1183.2 1873.6 L1192.6 1867.6 L1211.4 1867.6 L1220.8 1769.7 L1239.6 1769.7 L1249.0 1704.5 L1267.8 1704.5 L1277.2 1703.5 L1286.6 1703.5 L1296.0 1679.6 L1305.4 1624.5 L1314.8 1624.5 L1324.2 1614.3 L1333.6 1599.6 L1361.8 1599.6 L1371.2 1595.6 L1390.0 1595.6 L1399.4 1424.9 L1408.8 1236.9 L1427.6 1236.9 L1437.0 1215.7 L1493.4 1215.7 L1502.8 1214.7 L1512.2 1181.5 L1521.6 1145.9 L1531.0 1145.9 L1540.4 1072.9 L1606.2 1072.9 L1615.6 1061.4 L1625.0 1033.7 L1634.4 1031.6 L1662.6 1031.6 L1672.0 1000.0 L1740.0 1000.0 L1774.6 1000.0 L1784.0 575.0 L1878.8 574.9 L1888.4 546.0 L2047.9 546.0 L2054.6 482.6 L2072.9 467.6 L3674.2 467.0" stroke="#084081"/>
<path d="M243.2 2118.3 L544.0 2118.3 L553.4 2114.5 L562.8 2114.5 L572.2 2090.4 L713.2 2090.4 L722.6 2086.3 L732.0 2055.6 L788.4 2055.6 L797.8 2042.7 L826.0 2042.7 L835.4 2007.0 L882.4 2007.0 L891.8 1994.3 L948.2 1994.3 L957.6 1983.5 L967.0 1983.5 L976.4 1939.7 L1202.0 1939.7 L1211.4 1927.0 L1220.8 1835.7 L1230.2 1835.7 L1239.6 1830.9 L1333.6 1830.9 L1343.0 1800.6 L1371.2 1800.6 L1380.6 1797.7 L1408.8 1797.7 L1418.2 1778.0 L1437.0 1778.0 L1446.4 1705.5 L1493.4 1705.5 L1502.8 1678.7 L1521.6 1678.7 L1531.0 1614.1 L1587.4 1614.1 L1596.8 1568.6 L1672.0 1568.6 L1681.4 1508.3 L1756.6 1508.3 L1766.0 1476.7 L1822.4 1476.7 L1831.8 1456.0 L2159.5 1456.0 L3674.2 1456.0" stroke="#4eb3d3"/>
<path d="M243.2 2118.3 L703.8 2118.3 L713.2 2077.0 L779.0 2077.0 L788.4 2074.6 L1061.0 2074.6 L1070.4 2014.6 L1202.0 2014.6 L1211.4 2014.0 L1239.6 2014.0 L1249.0 2002.9 L1258.4 2002.9 L1267.8 1917.5 L1286.6 1917.5 L1296.0 1916.5 L1305.4 1916.5 L1314.8 1900.7 L1324.2 1858.3 L1333.6 1838.8 L1361.8 1838.8 L1371.2 1838.0 L1380.6 1831.2 L1390.0 1830.8 L1549.8 1830.8 L1559.2 1791.4 L1578.0 1791.4 L1587.4 1654.5 L1653.2 1654.5 L1662.6 1652.2 L1747.2 1652.2 L1756.6 1608.9 L1766.0 1582.1 L1775.4 1519.5 L1916.4 1519.5 L1925.8 1508.1 L1935.2 1508.1 L1944.6 1480.9 L1982.2 1480.9 L1991.6 1461.1 L2306.2 1461.1 L3674.2 1461.1" stroke="#4fb4d3"/>
<path d="M243.2 2118.3 L638.0 2118.3 L647.4 2079.0 L1079.8 2079.0 L1089.2 2069.7 L1155.0 2069.7 L1164.4 2052.1 L1202.0 2052.1 L1211.4 2048.8 L1249.0 2048.8 L1258.4 2047.1 L1465.2 2047.1 L1474.6 2041.5 L1493.4 2041.5 L1502.8 2021.6 L1521.6 2021.6 L1531.0 1989.0 L1587.4 1989.0 L1596.8 1950.7 L1700.2 1950.7 L1709.6 1906.5 L1747.2 1906.5 L1756.6 1883.3 L1766.0 1845.6 L1803.6 1845.6 L1813.0 1832.4 L1831.8 1832.4 L1841.2 1733.3 L1860.0 1733.3 L1869.4 1699.9 L1878.8 1679.0 L1888.2 1679.0 L1897.6 1581.5 L1907.0 1581.5 L1916.4 1507.1 L2001.0 1507.1 L2010.4 1398.5 L2151.4 1398.5 L2160.8 1385.0 L2345.1 1385.0 L3674.2 1385.0" stroke="#3b9ec8"/>
<path d="M243.2 2118.3 L647.4 2118.3 L656.8 2060.6 L685.0 2060.6 L694.4 2058.4 L779.0 2058.4 L788.4 2047.9 L948.2 2047.9 L957.6 2030.9 L967.0 2030.9 L976.4 2007.4 L1014.0 2007.4 L1023.4 2006.8 L1032.8 2006.8 L1042.2 1997.4 L1051.6 1997.4 L1061.0 1988.6 L1070.4 1978.6 L1117.4 1978.6 L1126.8 1960.6 L1136.2 1960.6 L1145.6 1836.7 L1192.6 1836.7 L1202.0 1785.3 L1211.4 1782.8 L1220.8 1782.8 L1230.2 1776.7 L1239.6 1737.1 L1277.2 1737.1 L1286.6 1674.2 L1296.0 1606.2 L1380.6 1606.2 L1390.0 1603.5 L1437.0 1603.5 L1446.4 1589.5 L1455.8 1589.5 L1465.2 1427.7 L1493.4 1427.7 L1502.8 1410.0 L1549.8 1410.0 L1559.2 1367.5 L1568.6 1367.5 L1578.0 1287.9 L1662.6 1287.9 L1672.0 1264.5 L1681.4 1235.1 L1690.8 1235.1 L1700.2 1218.4 L1709.6 1145.5 L1737.8 1145.5 L1747.2 1133.1 L1869.4 1133.1 L1878.8 1126.9 L1972.8 1126.9 L1982.2 1108.0 L1991.6 1072.5 L2186.9 1072.5 L3674.2 1072.5" stroke="#0862a5"/>
<path d="M243.2 2118.3 L309.0 2118.3 L318.4 2096.5 L440.6 2096.5 L450.0 2077.0 L562.8 2077.0 L572.2 2027.3 L638.0 2027.3 L647.4 2027.0 L713.2 2027.0 L722.6 2013.3 L750.8 2013.3 L760.2 1924.5 L816.6 1924.5 L826.0 1912.5 L835.4 1912.5 L844.8 1784.0 L854.2 1728.0 L901.2 1728.0 L910.6 1706.6 L948.2 1706.6 L957.6 1698.6 L976.4 1698.6 L985.8 1650.0 L1079.8 1650.0 L1089.2 1628.6 L1192.6 1628.6 L1202.0 1579.1 L1211.4 1562.9 L1230.2 1562.9 L1239.6 1554.7 L1249.0 1554.7 L1258.4 1512.0 L1267.8 1512.0 L1277.2 1483.8 L1296.0 1483.8 L1305.4 1476.7 L1361.8 1476.7 L1371.2 1452.1 L1390.0 1452.1 L1399.4 1422.6 L1408.8 1422.6 L1418.2 1341.6 L1427.6 1330.5 L1502.8 1330.5 L1512.2 1311.3 L1643.8 1311.3 L1653.2 1289.3 L1775.4 1289.3 L1784.8 1230.8 L1813.0 1230.8 L1822.4 1218.9 L2264.2 1218.9 L2273.6 1190.1 L2424.0 1190.1 L3674.2 1190.1" stroke="#1474b2"/>
<path d="M243.2 2118.3 L713.2 2118.3 L722.6 2088.3 L769.6 2088.3 L779.0 2042.4 L873.0 2042.4 L882.4 2042.3 L891.8 2042.3 L901.2 2021.3 L1164.4 2021.3 L1173.8 1987.5 L1296.0 1987.5 L1305.4 1884.5 L1361.8 1884.5 L1371.2 1879.5 L1380.6 1869.8 L1390.0 1869.8 L1399.4 1868.4 L1437.0 1868.4 L1446.4 1868.1 L1455.8 1868.1 L1465.2 1828.5 L1559.2 1828.5 L1568.6 1765.9 L1587.4 1765.9 L1596.8 1703.9 L1625.0 1703.9 L1634.4 1657.5 L1690.8 1657.5 L1700.2 1645.2 L1766.0 1645.2 L1775.4 1641.4 L1888.2 1641.4 L1897.6 1495.7 L2076.2 1495.7 L2085.6 1493.9 L2113.8 1493.9 L2123.2 1490.1 L2424.0 1490.1 L3674.2 1490.1" stroke="#53b6d1"/>
<path d="M243.2 2118.3 L468.8 2118.3 L478.2 2086.8 L685.0 2086.8 L694.4 2018.8 L722.6 2018.8 L732.0 1983.2 L750.8 1983.2 L760.2 1957.4 L769.6 1956.3 L844.8 1956.3 L854.2 1950.2 L929.4 1950.2 L938.8 1949.6 L967.0 1949.6 L976.4 1909.6 L1014.0 1909.6 L1023.4 1907.1 L1032.8 1905.6 L1145.6 1905.6 L1155.0 1904.0 L1173.8 1904.0 L1183.2 1879.5 L1220.8 1879.5 L1230.2 1865.8 L1305.4 1865.8 L1314.8 1802.7 L1343.0 1802.7 L1352.4 1798.4 L1361.8 1798.4 L1371.2 1788.5 L1446.4 1788.5 L1455.8 1731.1 L1502.8 1731.1 L1512.2 1697.1 L1549.8 1697.1 L1559.2 1589.5 L1587.4 1589.5 L1596.8 1569.6 L1643.8 1569.6 L1653.2 1489.2 L1775.4 1489.2 L1784.8 1450.6 L1794.2 1450.6 L1803.6 1436.4 L1878.8 1436.4 L1888.2 1407.4 L1897.6 1354.9 L2057.4 1354.9 L2066.8 1328.5 L2095.0 1328.5 L2104.4 1320.7 L2424.0 1320.7 L3674.2 1320.7" stroke="#3395c3"/>
<path d="M243.2 2118.3 L450.0 2118.3 L459.4 2091.6 L572.2 2091.6 L581.6 2060.1 L656.8 2060.1 L666.2 2049.1 L703.8 2049.1 L713.2 2042.2 L835.4 2042.2 L844.8 2023.8 L891.8 2023.8 L901.2 2004.1 L1032.8 2004.1 L1042.2 1891.1 L1117.4 1891.1 L1126.8 1848.6 L1267.8 1848.6 L1277.2 1793.6 L1333.6 1793.6 L1343.0 1748.5 L1380.6 1748.5 L1390.0 1716.7 L1399.4 1669.1 L1465.2 1669.1 L1474.6 1644.9 L1540.4 1644.9 L1549.8 1632.4 L1559.2 1631.2 L1700.2 1631.2 L1709.6 1623.4 L1728.4 1623.4 L1737.8 1620.4 L1756.6 1620.4 L1766.0 1613.4 L1775.4 1594.1 L1963.4 1594.1 L1972.8 1534.0 L2150.0 1534.0 L2246.0 1534.0 L2252.0 1447.3 L3674.2 1447.3" stroke="#4bafd1"/>
<path d="M243.2 2118.3 L374.8 2118.3 L384.2 2080.0 L769.6 2080.0 L779.0 2040.3 L1089.2 2040.3 L1098.6 2007.4 L1173.8 2007.4 L1183.2 1930.1 L1230.2 1930.1 L1239.6 1915.6 L1249.0 1915.6 L1258.4 1912.0 L1314.8 1912.0 L1324.2 1909.7 L1390.0 1909.7 L1399.4 1909.7 L1455.8 1909.7 L1465.2 1906.6 L1474.6 1905.0 L1484.0 1884.5 L1596.8 1884.5 L1606.2 1872.0 L1615.6 1872.0 L1625.0 1867.2 L1634.4 1867.2 L1643.8 1864.6 L1653.2 1864.6 L1662.6 1839.9 L1681.4 1839.9 L1690.8 1799.0 L1719.0 1799.0 L1728.4 1736.5 L1841.2 1736.5 L1850.6 1648.1 L1925.8 1648.1 L1935.2 1634.1 L1944.6 1634.1 L1954.0 1608.5 L1982.2 1608.5 L1991.6 1432.9 L2019.8 1432.9 L2029.2 1366.3 L2038.6 1366.3 L2048.0 1347.2 L2057.4 1347.2 L2066.8 1289.5 L2085.6 1289.5 L2095.0 1278.7 L2123.2 1278.7 L2132.6 1214.1 L2424.0 1214.1 L3674.2 1214.1" stroke="#1b7bb6"/>
<path d="M243.2 2118.3 L544.0 2118.3 L553.4 2095.6 L891.8 2095.6 L901.2 2075.0 L967.0 2075.0 L976.4 2067.8 L1023.4 2067.8 L1032.8 2042.0 L1061.0 2042.0 L1070.4 1999.6 L1155.0 1999.6 L1164.4 1998.1 L1192.6 1998.1 L1202.0 1962.9 L1211.4 1962.9 L1220.8 1769.9 L1277.2 1769.9 L1286.6 1710.3 L1371.2 1710.3 L1380.6 1664.0 L1418.2 1664.0 L1427.6 1661.3 L1465.2 1661.3 L1474.6 1658.1 L1728.4 1658.1 L1737.8 1653.8 L1756.6 1653.8 L1766.0 1633.1 L1831.8 1633.1 L1841.2 1616.8 L1850.6 1616.8 L1860.0 1579.0 L2212.8 1579.0 L3674.2 1579.0" stroke="#65c0cb"/>
<path d="M243.2 2118.3 L450.0 2118.3 L459.4 2112.7 L515.8 2112.7 L525.2 2073.4 L694.4 2073.4 L703.8 2028.1 L854.2 2028.1 L863.6 2001.7 L901.2 2001.7 L910.6 1944.3 L948.2 1944.3 L957.6 1824.3 L985.8 1824.3 L995.2 1793.2 L1004.6 1793.2 L1014.0 1791.4 L1042.2 1791.4 L1051.6 1774.6 L1249.0 1774.6 L1258.4 1732.7 L1324.2 1732.7 L1333.6 1723.4 L1352.4 1723.4 L1361.8 1614.3 L1371.2 1604.7 L1380.6 1557.0 L1465.2 1557.0 L1474.6 1523.3 L1484.0 1509.8 L1493.4 1509.8 L1502.8 1507.1 L1512.2 1507.1 L1521.6 1471.6 L1540.4 1471.6 L1549.8 1414.7 L1559.2 1342.2 L1568.6 1328.8 L1625.0 1328.8 L1634.4 1325.7 L1653.2 1325.7 L1662.6 1321.4 L1700.2 1321.4 L1709.6 1319.9 L1747.2 1319.9 L1756.6 1319.3 L1766.0 1319.3 L1775.4 1236.1 L1888.2 1236.1 L1897.6 1173.4 L2264.6 1173.4 L3674.2 1173.4" stroke="#1171b1"/>
<path d="M243.2 2118.3 L374.8 2118.3 L384.2 2102.1 L638.0 2102.1 L647.4 2095.0 L826.0 2095.0 L835.4 2094.8 L844.8 2090.4 L882.4 2090.4 L891.8 2088.4 L910.6 2088.4 L920.0 2084.6 L948.2 2084.6 L957.6 2069.8 L967.0 2069.8 L976.4 1912.4 L1004.6 1912.4 L1014.0 1908.2 L1051.6 1908.2 L1061.0 1882.4 L1070.4 1864.3 L1079.8 1858.8 L1108.0 1858.8 L1117.4 1768.2 L1126.8 1752.5 L1164.4 1752.5 L1173.8 1741.1 L1183.2 1741.1 L1192.6 1669.1 L1202.0 1632.2 L1286.6 1632.2 L1296.0 1531.3 L1305.4 1530.8 L1333.6 1530.8 L1343.0 1456.4 L1380.6 1456.4 L1390.0 1355.8 L1399.4 1355.8 L1408.8 1321.9 L1418.2 1302.6 L1437.0 1302.6 L1446.4 1289.2 L1493.4 1289.2 L1502.8 1255.6 L1813.0 1255.6 L1822.4 1097.9 L1982.2 1097.9 L1991.6 1097.2 L2255.8 1097.2 L3674.2 1097.2" stroke="#0a6aad"/>
<path d="M243.2 2118.3 L506.4 2118.3 L515.8 2117.1 L638.0 2117.1 L647.4 2104.8 L797.8 2104.8 L807.2 2087.9 L816.6 2021.6 L910.6 2021.6 L920.0 2014.5 L1004.6 2014.5 L1014.0 1917.4 L1117.4 1917.4 L1126.8 1892.1 L1155.0 1892.1 L1164.4 1882.8 L1173.8 1882.8 L1183.2 1731.3 L1192.6 1710.5 L1202.0 1664.3 L1286.6 1664.3 L1296.0 1613.9 L1314.8 1613.9 L1324.2 1608.8 L1333.6 1599.1 L1408.8 1599.1 L1418.2 1598.7 L1446.4 1598.7 L1455.8 1570.6 L1465.2 1551.9 L1493.4 1551.9 L1502.8 1527.3 L1521.6 1527.3 L1531.0 1514.1 L1549.8 1514.1 L1559.2 1469.8 L1568.6 1469.8 L1578.0 1468.9 L1803.6 1468.9 L1813.0 1468.9 L1822.4 1468.9 L1831.8 1457.8 L1916.4 1457.8 L1925.8 1437.0 L1944.6 1437.0 L1954.0 1280.7 L2019.8 1280.7 L2029.2 1274.0 L2038.6 1274.0 L2048.0 1257.7 L2085.6 1257.7 L2095.0 1218.2 L2330.8 1218.2 L3674.2 1218.2" stroke="#1c7db6"/>
<path d="M243.2 2118.3 L534.6 2118.3 L544.0 2116.3 L685.0 2116.3 L694.4 2066.7 L873.0 2066.7 L882.4 2049.7 L891.8 2049.7 L901.2 2041.5 L920.0 2041.5 L929.4 2034.6 L938.8 2034.6 L948.2 2032.1 L976.4 2032.1 L985.8 1916.3 L1004.6 1916.3 L1014.0 1914.3 L1032.8 1914.3 L1042.2 1883.0 L1070.4 1883.0 L1079.8 1858.7 L1089.2 1858.7 L1098.6 1834.9 L1136.2 1834.9 L1145.6 1819.9 L1173.8 1819.9 L1183.2 1785.0 L1305.4 1785.0 L1314.8 1773.7 L1380.6 1773.7 L1390.0 1759.8 L1437.0 1759.8 L1446.4 1744.1 L1512.2 1744.1 L1521.6 1743.1 L1596.8 1743.1 L1606.2 1729.2 L1615.6 1708.2 L1625.0 1708.2 L1634.4 1571.3 L1662.6 1571.3 L1672.0 1558.0 L1747.2 1558.0 L1756.6 1534.7 L1766.0 1530.9 L1803.6 1530.9 L1813.0 1530.9 L1860.0 1530.9 L1869.4 1530.7 L1897.6 1530.7 L1907.0 1377.3 L1916.4 1377.3 L1925.8 1321.9 L2198.4 1321.9 L2207.8 1278.1 L2424.0 1278.1 L3674.2 1278.1" stroke="#298abd"/>
<path d="M243.2 2118.3 L459.4 2118.3 L468.8 2081.2 L609.8 2081.2 L619.2 2064.7 L694.4 2064.7 L703.8 2037.7 L713.2 2037.2 L760.2 2037.2 L769.6 2025.3 L779.0 2025.3 L788.4 2022.9 L797.8 1957.4 L807.2 1957.4 L816.6 1921.9 L826.0 1921.9 L835.4 1917.3 L863.6 1917.3 L873.0 1868.8 L882.4 1868.8 L891.8 1843.5 L901.2 1839.2 L920.0 1839.2 L929.4 1830.4 L938.8 1821.2 L967.0 1821.2 L976.4 1685.8 L985.8 1583.5 L1001.7 1583.5 L1002.3 1559.9 L1003.8 1523.0 L1030.2 1522.1 L1033.3 1501.3 L1059.6 1500.7 L1070.5 1493.6 L1089.0 1493.0 L1098.3 1471.9 L1107.6 1425.4 L1154.1 1424.8 L1163.4 1406.2 L1209.9 1405.6 L1220.8 1382.6 L1287.4 1382.6 L1296.0 1382.6 L1305.4 1324.9 L1380.6 1324.9 L1390.0 1285.3 L1578.0 1285.3 L1587.4 1249.4 L1596.8 1224.8 L1615.6 1224.8 L1625.0 1189.1 L1634.4 1155.6 L1653.2 1155.6 L1662.6 1146.6 L1719.0 1146.6 L1728.4 1043.0 L1831.8 1043.0 L1841.2 948.2 L1888.2 948.2 L1897.6 933.2 L1907.0 933.2 L1916.4 909.1 L2029.2 909.1 L2038.6 884.8 L2085.6 884.8 L2095.0 874.5 L2251.9 874.5 L3674.2 874.5" stroke="#085092"/>
<path d="M243.2 2118.3 L638.0 2118.3 L647.4 2106.1 L741.4 2106.1 L750.8 2085.2 L863.6 2085.2 L873.0 2061.0 L1126.8 2061.0 L1136.2 2059.9 L1267.8 2059.9 L1277.2 2055.6 L1286.6 2055.6 L1296.0 1997.9 L1324.2 1997.9 L1333.6 1861.8 L1343.0 1861.7 L1352.4 1822.5 L1390.0 1822.5 L1399.4 1822.4 L1408.8 1822.4 L1418.2 1805.3 L1465.2 1805.3 L1474.6 1803.9 L1502.8 1803.9 L1512.2 1800.2 L1521.6 1800.2 L1531.0 1741.5 L1540.4 1732.9 L1596.8 1732.9 L1606.2 1715.1 L1803.6 1715.1 L1813.0 1681.2 L1954.0 1681.2 L1963.4 1674.5 L2095.0 1674.5 L2104.4 1591.1 L2132.6 1591.1 L2142.0 1534.8 L2151.4 1494.9 L2364.0 1494.9 L3674.2 1494.9" stroke="#55b7d1"/>
<path d="M243.2 2118.3 L534.6 2118.3 L544.0 2096.1 L656.8 2096.1 L666.2 2082.9 L741.4 2082.9 L750.8 2037.2 L938.8 2037.2 L948.2 2024.9 L967.0 2024.9 L976.4 2011.9 L1117.4 2011.9 L1126.8 1960.8 L1164.4 1960.8 L1173.8 1937.4 L1202.0 1937.4 L1211.4 1935.0 L1220.8 1890.1 L1230.2 1890.1 L1239.6 1827.3 L1267.8 1827.3 L1277.2 1816.0 L1286.6 1816.0 L1296.0 1772.2 L1361.8 1772.2 L1371.2 1761.3 L1408.8 1761.3 L1418.2 1753.6 L1437.0 1753.6 L1446.4 1752.6 L1502.8 1752.6 L1512.2 1743.8 L1625.0 1743.8 L1634.4 1742.3 L1700.2 1742.3 L1709.6 1577.5 L1737.8 1577.5 L1747.2 1529.4 L1822.4 1529.4 L1831.8 1488.7 L1869.4 1488.7 L1878.8 1453.9 L2287.8 1453.9 L3674.2 1453.9" stroke="#4cb1d2"/>
<path d="M243.2 2118.3 L675.6 2118.3 L685.0 2090.8 L741.4 2090.8 L750.8 2085.2 L844.8 2085.2 L854.2 2029.3 L1014.0 2029.3 L1023.4 2014.9 L1032.8 2011.8 L1108.0 2011.8 L1117.4 1971.3 L1145.6 1971.3 L1155.0 1934.6 L1164.4 1934.6 L1173.8 1910.4 L1211.4 1910.4 L1220.8 1854.6 L1239.6 1854.6 L1249.0 1824.3 L1296.0 1824.3 L1305.4 1820.5 L1324.2 1820.5 L1333.6 1819.5 L1371.2 1819.5 L1380.6 1785.4 L1540.4 1785.4 L1549.8 1718.6 L1643.8 1718.6 L1653.2 1544.4 L1672.0 1544.4 L1681.4 1460.5 L1737.8 1460.5 L1747.2 1423.0 L1935.2 1423.0 L1944.6 1407.2 L2193.2 1407.2 L3674.2 1407.2" stroke="#41a4cb"/>
<path d="M243.2 2118.3 L515.8 2118.3 L525.2 2091.4 L713.2 2091.4 L722.6 2082.8 L854.2 2082.8 L863.6 1948.1 L901.2 1948.1 L910.6 1885.9 L938.8 1885.9 L948.2 1849.4 L967.0 1849.4 L976.4 1837.1 L985.8 1837.1 L995.2 1773.9 L1061.0 1773.9 L1070.4 1725.9 L1079.8 1725.9 L1089.2 1725.5 L1098.6 1666.7 L1126.8 1666.7 L1136.2 1620.0 L1173.8 1620.0 L1183.2 1619.7 L1192.6 1602.6 L1202.0 1565.5 L1211.4 1565.5 L1220.8 1564.7 L1267.8 1564.7 L1277.2 1555.6 L1286.6 1555.6 L1296.0 1549.5 L1305.4 1549.1 L1314.8 1549.1 L1324.2 1458.0 L1333.6 1452.2 L1352.4 1452.2 L1361.8 1451.1 L1371.2 1451.1 L1380.6 1424.1 L1390.0 1424.1 L1399.4 1320.1 L1427.6 1320.1 L1437.0 1306.2 L1549.8 1306.2 L1559.2 1273.4 L1578.0 1273.4 L1587.4 1245.5 L1625.0 1245.5 L1634.4 1125.4 L1643.8 1125.4 L1653.2 1106.2 L1662.6 1049.6 L1672.0 1040.4 L1681.4 982.5 L1690.8 955.8 L1700.2 918.4 L1740.2 918.4 L1756.2 842.3 L1766.2 717.0 L1776.2 707.0 L1784.2 707.0 L1794.2 688.2 L1916.3 688.2 L1926.3 571.3 L2048.4 571.3 L2058.4 532.1 L2066.5 514.1 L3674.2 513.7" stroke="#084283"/>
<path d="M243.2 2118.3 L666.2 2118.3 L675.6 2057.6 L722.6 2057.6 L732.0 2022.6 L760.2 2022.6 L769.6 2001.4 L1183.2 2001.4 L1192.6 1978.9 L1277.2 1978.9 L1286.6 1975.7 L1296.0 1975.7 L1305.4 1957.2 L1314.8 1946.1 L1343.0 1946.1 L1352.4 1870.9 L1399.4 1870.9 L1408.8 1859.4 L1418.2 1852.1 L1427.6 1852.1 L1437.0 1845.6 L1521.6 1845.6 L1531.0 1827.1 L1540.4 1827.1 L1549.8 1748.2 L1634.4 1748.2 L1643.8 1727.5 L1672.0 1727.5 L1681.4 1721.2 L1700.2 1721.2 L1709.6 1677.6 L1728.4 1677.6 L1737.8 1617.6 L1784.8 1617.6 L1794.2 1502.6 L1813.0 1502.6 L1822.4 1474.7 L1841.2 1474.7 L1850.6 1472.9 L1888.2 1472.9 L1897.6 1394.3 L1916.4 1394.3 L1925.8 1379.5 L1935.2 1365.1 L2001.0 1365.1 L2010.4 1362.4 L2076.2 1362.4 L2085.6 1325.9 L2372.6 1325.9 L3674.2 1325.9" stroke="#3496c4"/>
<path d="M243.2 2118.3 L487.6 2118.3 L497.0 2098.3 L713.2 2098.3 L722.6 2086.0 L732.0 2035.5 L854.2 2035.5 L863.6 2024.2 L891.8 2024.2 L901.2 2010.2 L1032.8 2010.2 L1042.2 1987.5 L1089.2 1987.5 L1098.6 1917.1 L1136.2 1917.1 L1145.6 1826.5 L1192.6 1826.5 L1202.0 1761.8 L1211.4 1746.6 L1286.6 1746.6 L1296.0 1734.1 L1314.8 1734.1 L1324.2 1675.6 L1390.0 1675.6 L1399.4 1609.3 L1587.4 1609.3 L1596.8 1557.4 L1719.0 1557.4 L1728.4 1547.9 L1897.6 1547.9 L1907.0 1542.6 L1916.4 1541.2 L1925.8 1541.2 L1935.2 1501.0 L2095.0 1501.0 L2104.4 1376.5 L2424.0 1376.5 L3674.2 1376.5" stroke="#3a9dc7"/>
<path d="M243.2 2118.3 L1126.8 2118.3 L1136.2 2066.0 L1145.6 2052.9 L1164.4 2052.9 L1173.8 1957.7 L1192.6 1957.7 L1202.0 1921.1 L1249.0 1921.1 L1258.4 1905.6 L1267.8 1905.6 L1277.2 1892.9 L1286.6 1700.3 L1296.0 1700.3 L1305.4 1656.4 L1314.8 1656.4 L1324.2 1648.2 L1352.4 1648.2 L1361.8 1646.5 L1437.0 1646.5 L1446.4 1598.3 L1455.8 1564.0 L1465.2 1564.0 L1474.6 1558.3 L1484.0 1525.9 L1512.2 1525.9 L1521.6 1459.1 L1625.0 1459.1 L1634.4 1410.9 L1709.6 1410.9 L1719.0 1350.7 L1728.4 1312.1 L1737.8 1312.1 L1747.2 1298.3 L1794.2 1298.3 L1803.6 1237.4 L1869.4 1237.4 L1878.8 1207.9 L2001.0 1207.9 L2010.4 1187.4 L2076.2 1187.4 L2085.6 1111.8 L2170.2 1111.8 L2179.6 1089.0 L2336.5 1089.0 L3674.2 1089.0" stroke="#0865a9"/>
<path d="M243.2 2118.3 L656.8 2118.3 L666.2 2093.2 L779.0 2093.2 L788.4 2022.7 L863.6 2022.7 L873.0 1996.1 L1023.4 1996.1 L1032.8 1993.7 L1051.6 1993.7 L1061.0 1985.9 L1098.6 1985.9 L1108.0 1982.3 L1230.2 1982.3 L1239.6 1960.3 L1324.2 1960.3 L1333.6 1927.9 L1343.0 1922.4 L1352.4 1887.0 L1371.2 1887.0 L1380.6 1822.2 L1493.4 1822.2 L1502.8 1821.2 L1540.4 1821.2 L1549.8 1819.7 L1672.0 1819.7 L1681.4 1721.8 L1766.0 1721.8 L1775.4 1637.6 L1794.2 1637.6 L1803.6 1630.2 L1822.4 1630.2 L1831.8 1621.3 L1907.0 1621.3 L1916.4 1597.2 L1954.0 1597.2 L1963.4 1581.5 L2066.8 1581.5 L2076.2 1518.0 L2200.0 1518.0 L2316.0 1518.0 L2320.0 1481.9 L3674.2 1481.9" stroke="#51b5d2"/>
<path d="M243.2 2118.3 L412.5 2118.3 L414.4 2107.2 L422.3 2059.7 L551.8 2059.7 L638.0 2059.7 L647.4 2027.1 L694.4 2027.1 L703.8 2001.2 L760.2 2001.2 L769.6 1984.0 L788.4 1984.0 L797.8 1983.8 L844.8 1983.8 L854.2 1983.5 L891.8 1983.5 L901.2 1969.6 L957.6 1969.6 L967.0 1969.5 L1023.4 1969.5 L1032.8 1969.4 L1070.4 1969.4 L1079.8 1967.8 L1108.0 1967.8 L1117.4 1907.1 L1173.8 1907.1 L1183.2 1899.6 L1192.6 1700.0 L1202.0 1700.0 L1211.4 1693.0 L1230.2 1693.0 L1239.6 1682.0 L1249.0 1660.8 L1286.6 1660.8 L1296.0 1599.1 L1305.4 1599.1 L1314.8 1550.1 L1361.8 1550.1 L1371.2 1548.2 L1521.6 1548.2 L1531.0 1470.2 L1596.8 1470.2 L1606.2 1342.1 L1615.6 1342.1 L1625.0 1170.9 L1634.4 1127.6 L1709.6 1127.6 L1719.0 1121.0 L1728.4 1102.0 L1747.2 1102.0 L1756.6 1068.7 L1784.8 1068.7 L1794.2 1053.3 L1954.0 1053.3 L1963.4 1022.6 L2029.2 1022.6 L2038.6 1016.4 L2048.0 1016.4 L2057.4 993.1 L2231.1 993.1 L3674.2 993.1" stroke="#085da0"/>
<path d="M243.2 2118.3 L619.2 2118.3 L628.6 2102.1 L675.6 2102.1 L685.0 2097.1 L732.0 2097.1 L741.4 2084.1 L1098.6 2084.1 L1108.0 2079.6 L1155.0 2079.6 L1164.4 2050.3 L1493.4 2050.3 L1502.8 2041.5 L1540.4 2041.5 L1549.8 2032.2 L1596.8 2032.2 L1606.2 2010.0 L1615.6 1960.8 L1634.4 1960.8 L1643.8 1946.2 L1747.2 1946.2 L1756.6 1933.6 L1907.0 1933.6 L1916.4 1896.4 L2095.0 1896.4 L2104.4 1747.7 L2179.6 1747.7 L2189.0 1685.7 L2424.0 1685.7 L3674.2 1685.7" stroke="#6ec5c8"/>
<path d="M243.2 2118.3 L553.4 2118.3 L562.8 2118.3 L628.6 2118.3 L638.0 2060.5 L675.6 2060.5 L685.0 1982.3 L694.4 1963.1 L1070.4 1963.1 L1079.8 1946.5 L1145.6 1946.5 L1155.0 1934.4 L1267.8 1934.4 L1277.2 1914.1 L1296.0 1914.1 L1305.4 1898.3 L1361.8 1898.3 L1371.2 1894.1 L1399.4 1894.1 L1408.8 1851.1 L1455.8 1851.1 L1465.2 1807.8 L1493.4 1807.8 L1502.8 1749.0 L1549.8 1749.0 L1559.2 1745.4 L1568.6 1745.4 L1578.0 1712.5 L1653.2 1712.5 L1662.6 1706.0 L1672.0 1547.7 L1709.6 1547.7 L1719.0 1544.0 L1728.4 1544.0 L1737.8 1512.3 L1747.2 1510.5 L1813.0 1510.5 L1822.4 1414.0 L1860.0 1414.0 L1869.4 1392.4 L1963.4 1392.4 L1972.8 1391.3 L2160.8 1391.3 L2170.2 1389.5 L2351.8 1389.5 L3674.2 1389.5" stroke="#3da0c9"/>
<path d="M243.2 2118.3 L713.2 2118.3 L722.6 2100.5 L816.6 2100.5 L826.0 2069.0 L985.8 2069.0 L995.2 2067.5 L1042.2 2067.5 L1051.6 2065.3 L1380.6 2065.3 L1390.0 2061.0 L1399.4 2053.4 L1408.8 2053.4 L1418.2 2042.2 L1427.6 2042.2 L1437.0 1961.1 L1455.8 1961.1 L1465.2 1948.8 L1531.0 1948.8 L1540.4 1912.3 L1709.6 1912.3 L1719.0 1909.1 L1728.4 1889.1 L1794.2 1889.1 L1803.6 1849.2 L1822.4 1849.2 L1831.8 1767.5 L1869.4 1767.5 L1878.8 1694.7 L1935.2 1694.7 L1944.6 1681.8 L2038.6 1681.8 L2048.0 1681.2 L2113.8 1681.2 L2123.2 1523.1 L2424.0 1523.1 L3674.2 1523.1" stroke="#5abacf"/>
<path d="M243.2 2118.3 L713.2 2118.3 L722.6 2085.1 L1023.4 2085.1 L1032.8 2043.2 L1042.2 1986.9 L1098.6 1986.9 L1108.0 1941.0 L1173.8 1941.0 L1183.2 1925.2 L1192.6 1925.2 L1202.0 1920.3 L1211.4 1886.9 L1239.6 1886.9 L1249.0 1883.0 L1258.4 1883.0 L1267.8 1838.6 L1361.8 1838.6 L1371.2 1833.7 L1427.6 1833.7 L1437.0 1825.7 L1493.4 1825.7 L1502.8 1823.0 L1662.6 1823.0 L1672.0 1762.9 L1690.8 1762.9 L1700.2 1743.7 L1747.2 1743.7 L1756.6 1730.1 L1878.8 1730.1 L1888.2 1728.1 L1954.0 1728.1 L1963.4 1707.0 L3500.0 1707.0 L3618.0 1707.0 L3627.0 1688.6 L3674.2 1688.6" stroke="#70c6c8"/>
<path d="M243.2 2118.3 L487.6 2118.3 L497.0 2103.7 L572.2 2103.7 L581.6 2067.1 L609.8 2067.1 L619.2 2059.1 L647.4 2059.1 L656.8 2013.1 L666.2 2005.9 L675.6 1991.4 L741.4 1991.4 L750.8 1981.7 L788.4 1981.7 L797.8 1913.9 L844.8 1913.9 L854.2 1874.1 L873.0 1874.1 L882.4 1838.5 L891.8 1785.6 L901.2 1785.6 L910.6 1728.9 L920.0 1725.9 L929.4 1725.9 L938.8 1650.8 L948.2 1583.5 L962.0 1583.5 L965.1 1559.9 L975.9 1495.1 L1050.3 1495.1 L1059.6 1491.1 L1070.5 1491.1 L1081.3 1462.6 L1089.7 1442.5 L1134.9 1442.5 L1144.2 1345.8 L1192.9 1344.8 L1199.1 1298.3 L1205.3 1256.5 L1213.0 1228.6 L1276.5 1228.6 L1285.8 1199.8 L1364.9 1199.8 L1390.0 1199.8 L1399.4 1189.3 L1408.8 1173.4 L1418.2 1173.4 L1427.6 1170.4 L1512.2 1170.4 L1521.6 1137.9 L1568.6 1137.9 L1578.0 1085.4 L1587.4 1054.2 L1653.2 1054.2 L1662.6 1032.6 L1672.0 1010.7 L1784.8 1010.7 L1794.2 1010.5 L1831.8 1010.5 L1841.2 989.1 L1878.8 989.1 L1888.2 961.5 L1897.6 899.5 L2010.4 899.5 L2019.8 860.5 L2280.5 860.5 L3674.2 860.5" stroke="#084f91"/>
<path d="M243.2 2118.3 L421.8 2118.3 L431.2 2068.4 L591.0 2068.4 L600.4 2059.0 L619.2 2059.0 L628.6 2031.4 L638.0 2031.4 L647.4 2023.5 L722.6 2023.5 L732.0 2015.4 L769.6 2015.4 L779.0 1982.6 L788.4 1902.4 L854.2 1902.4 L863.6 1835.9 L873.0 1830.1 L882.4 1830.1 L891.8 1825.3 L901.2 1825.3 L910.6 1817.5 L976.4 1817.5 L985.8 1765.3 L1032.8 1765.3 L1042.2 1748.0 L1061.0 1748.0 L1070.4 1744.8 L1079.8 1744.8 L1089.2 1692.9 L1108.0 1692.9 L1117.4 1678.0 L1126.8 1675.8 L1145.6 1675.8 L1155.0 1569.1 L1173.8 1569.1 L1183.2 1473.2 L1220.8 1473.2 L1230.2 1434.5 L1239.6 1429.1 L1258.4 1429.1 L1267.8 1385.9 L1277.2 1385.9 L1286.6 1355.1 L1324.2 1355.1 L1333.6 1343.6 L1427.6 1343.6 L1437.0 1302.7 L1455.8 1302.7 L1465.2 1272.8 L1502.8 1272.8 L1512.2 1265.0 L1521.6 1138.5 L1587.4 1138.5 L1596.8 1101.1 L1700.2 1101.1 L1709.6 1093.5 L1756.6 1093.5 L1766.0 1084.1 L1794.2 1084.1 L1803.6 1082.1 L1831.8 1082.1 L1841.2 1055.4 L1972.8 1055.4 L1982.2 1000.0 L1991.0 1000.0 L2082.0 997.0 L2088.0 979.0 L2102.5 882.4 L2216.6 882.4 L2235.8 726.2 L3674.2 726.7" stroke="#08488a"/>
<path d="M243.2 2118.3 L675.6 2118.3 L685.0 2084.8 L703.8 2084.8 L713.2 2082.4 L882.4 2082.4 L891.8 2070.8 L938.8 2070.8 L948.2 2001.1 L967.0 2001.1 L976.4 1870.5 L985.8 1870.5 L995.2 1801.5 L1117.4 1801.5 L1126.8 1686.4 L1277.2 1686.4 L1286.6 1651.8 L1296.0 1651.8 L1305.4 1629.0 L1352.4 1629.0 L1361.8 1610.9 L1408.8 1610.9 L1418.2 1586.5 L1512.2 1586.5 L1521.6 1581.4 L1559.2 1581.4 L1568.6 1580.6 L1578.0 1580.6 L1587.4 1489.4 L1643.8 1489.4 L1653.2 1455.4 L1662.6 1406.0 L1672.0 1406.0 L1681.4 1396.2 L1690.8 1392.5 L1719.0 1392.5 L1728.4 1334.9 L1737.8 1298.8 L1784.8 1298.8 L1794.2 1257.1 L1878.8 1257.1 L1888.2 1255.3 L1935.2 1255.3 L1944.6 1250.4 L2199.4 1250.4 L3674.2 1250.4" stroke="#2384ba"/>
<path d="M243.2 2118.3 L572.2 2118.3 L581.6 2093.9 L713.2 2093.9 L722.6 2010.5 L873.0 2010.5 L882.4 2005.2 L891.8 2005.2 L901.2 1981.3 L948.2 1981.3 L957.6 1941.0 L1108.0 1941.0 L1117.4 1686.6 L1126.8 1630.7 L1136.2 1630.7 L1145.6 1601.7 L1155.0 1601.1 L1211.4 1601.1 L1220.8 1599.3 L1230.2 1597.7 L1239.6 1572.6 L1249.0 1536.2 L1258.4 1536.2 L1267.8 1472.2 L1305.4 1472.2 L1314.8 1373.6 L1333.6 1373.6 L1343.0 1314.2 L1352.4 1301.8 L1361.8 1301.8 L1371.2 1295.4 L1418.2 1295.4 L1427.6 1236.4 L1512.2 1236.4 L1521.6 1223.8 L1540.4 1223.8 L1549.8 1184.3 L1568.6 1184.3 L1578.0 1175.6 L1615.6 1175.6 L1625.0 1153.5 L1643.8 1153.5 L1653.2 1142.3 L1719.0 1142.3 L1728.4 1116.2 L1775.4 1116.2 L1784.8 1115.7 L1888.2 1115.7 L1897.6 1115.4 L1925.8 1115.4 L1935.2 1113.5 L2254.8 1113.5 L2264.2 1091.3 L2424.0 1091.3 L3674.2 1091.3" stroke="#0867ab"/>
<path d="M243.2 2118.3 L478.2 2118.3 L487.6 2114.6 L741.4 2114.6 L750.8 1961.5 L769.6 1961.5 L779.0 1942.9 L910.6 1942.9 L920.0 1931.0 L1023.4 1931.0 L1032.8 1872.5 L1042.2 1856.4 L1126.8 1856.4 L1136.2 1812.2 L1192.6 1812.2 L1202.0 1811.9 L1211.4 1745.4 L1220.8 1698.8 L1230.2 1698.8 L1239.6 1693.2 L1258.4 1693.2 L1267.8 1672.3 L1277.2 1600.9 L1286.6 1598.7 L1305.4 1598.7 L1314.8 1573.9 L1324.2 1573.9 L1333.6 1545.3 L1343.0 1545.3 L1352.4 1508.7 L1361.8 1508.7 L1371.2 1445.9 L1399.4 1445.9 L1408.8 1378.9 L1437.0 1378.9 L1446.4 1255.7 L1474.6 1255.7 L1484.0 1237.7 L1568.6 1237.7 L1578.0 1167.1 L1653.2 1167.1 L1662.6 1164.6 L1747.2 1164.6 L1756.6 1159.1 L1766.0 1144.6 L1775.4 994.9 L1784.8 972.4 L1794.2 965.7 L1935.2 965.7 L1944.6 942.1 L1954.0 898.4 L1990.4 898.4 L2038.4 896.4 L2048.4 822.3 L2076.5 822.3 L2095.3 590.1 L2122.5 590.1 L2132.5 570.5 L3674.2 572.0" stroke="#084384"/>
<path d="M243.2 2118.3 L506.4 2118.3 L515.8 2088.5 L694.4 2088.5 L703.8 2086.7 L844.8 2086.7 L854.2 2083.7 L920.0 2083.7 L929.4 2013.5 L938.8 1977.8 L1051.6 1977.8 L1061.0 1976.7 L1089.2 1976.7 L1098.6 1950.2 L1145.6 1950.2 L1155.0 1949.8 L1164.4 1920.0 L1173.8 1920.0 L1183.2 1872.9 L1239.6 1872.9 L1249.0 1860.7 L1258.4 1748.8 L1267.8 1731.9 L1277.2 1694.7 L1286.6 1615.7 L1324.2 1615.7 L1333.6 1614.3 L1343.0 1583.0 L1380.6 1583.0 L1390.0 1483.0 L1399.4 1413.7 L1418.2 1413.7 L1427.6 1376.9 L1465.2 1376.9 L1474.6 1367.0 L1484.0 1367.0 L1493.4 1365.4 L1502.8 1365.4 L1512.2 1349.4 L1559.2 1349.4 L1568.6 1313.1 L1662.6 1313.1 L1672.0 1300.2 L1681.4 1206.6 L1700.2 1206.6 L1709.6 1165.3 L1728.4 1165.3 L1737.8 1117.9 L1747.2 1108.8 L1756.6 1024.1 L1766.0 1023.2 L1784.8 1023.2 L1794.2 939.2 L1803.6 939.2 L1813.0 939.2 L1831.8 939.2 L1841.2 923.0 L2010.4 923.0 L2019.8 909.9 L2307.7 909.9 L3674.2 909.9" stroke="#085598"/>
<path d="M243.2 2118.3 L638.0 2118.3 L647.4 2118.0 L722.6 2118.0 L732.0 2101.7 L760.2 2101.7 L769.6 2091.0 L920.0 2091.0 L929.4 2089.3 L1032.8 2089.3 L1042.2 2074.8 L1126.8 2074.8 L1136.2 2070.1 L1192.6 2070.1 L1202.0 2070.0 L1277.2 2070.0 L1286.6 2068.1 L1296.0 2068.1 L1305.4 2054.4 L1455.8 2054.4 L1465.2 2041.8 L1615.6 2041.8 L1625.0 1888.5 L1681.4 1888.5 L1690.8 1828.6 L1774.3 1828.6 L1796.3 1822.0 L1840.3 1822.0 L1853.5 1815.4 L1866.8 1814.5 L1880.0 1806.6 L1906.4 1804.4 L1926.2 1789.9 L1990.0 1789.9 L1998.9 1787.7 L2047.3 1787.7 L2056.1 1785.5 L2075.9 1784.6 L2084.7 1775.8 L2095.7 1774.9 L2104.5 1767.0 L2108.9 1727.3 L2113.3 1672.3 L2482.0 1670.0 L2491.0 1652.0 L2497.0 1536.8 L3674.2 1536.7" stroke="#5cbbce"/>
<path d="M243.2 2118.3 L440.6 2118.3 L450.0 2111.6 L638.0 2111.6 L647.4 2088.4 L826.0 2088.4 L835.4 2068.0 L995.2 2068.0 L1004.6 2050.3 L1042.2 2050.3 L1051.6 2049.3 L1145.6 2049.3 L1155.0 2026.2 L1211.4 2026.2 L1220.8 2006.7 L1230.2 2005.0 L1249.0 2005.0 L1258.4 1868.7 L1314.8 1868.7 L1324.2 1846.3 L1361.8 1846.3 L1371.2 1826.8 L1390.0 1826.8 L1399.4 1680.2 L1540.4 1680.2 L1549.8 1674.1 L1681.4 1674.1 L1690.8 1645.2 L1700.2 1611.8 L1709.6 1558.0 L1784.8 1558.0 L1794.2 1554.2 L1907.0 1554.2 L1916.4 1500.4 L1954.0 1500.4 L1963.4 1497.5 L2336.9 1497.5 L3674.2 1497.5" stroke="#57b8d0"/>
<path d="M243.2 2118.3 L309.0 2118.3 L318.4 2106.1 L356.0 2106.1 L365.4 2105.5 L412.4 2105.5 L421.8 2104.6 L515.8 2104.6 L525.2 2090.6 L666.2 2090.6 L675.6 2033.5 L967.0 2033.5 L976.4 2032.0 L1061.0 2032.0 L1070.4 2014.7 L1098.6 2014.7 L1108.0 2006.2 L1145.6 2006.2 L1155.0 1889.6 L1164.4 1889.6 L1173.8 1884.1 L1211.4 1884.1 L1220.8 1847.4 L1230.2 1835.0 L1277.2 1835.0 L1286.6 1742.0 L1324.2 1742.0 L1333.6 1735.4 L1399.4 1735.4 L1408.8 1630.5 L1446.4 1630.5 L1455.8 1566.4 L1559.2 1566.4 L1568.6 1559.0 L1578.0 1559.0 L1587.4 1404.8 L1643.8 1404.8 L1653.2 1365.5 L1709.6 1365.5 L1719.0 1360.1 L1756.6 1360.1 L1766.0 1346.9 L1784.8 1346.9 L1794.2 1346.5 L1907.0 1346.5 L1916.4 1308.4 L2282.1 1308.4 L3674.2 1308.4" stroke="#3092c1"/>
<path d="M243.2 2118.3 L1079.8 2118.3 L1089.2 2117.7 L1136.2 2117.7 L1145.6 2075.1 L1202.0 2075.1 L1211.4 2061.1 L1220.8 2061.1 L1230.2 2018.9 L1277.2 2018.9 L1286.6 2017.8 L1352.4 2017.8 L1361.8 2017.4 L1418.2 2017.4 L1427.6 2013.9 L1465.2 2013.9 L1474.6 1980.1 L1502.8 1980.1 L1512.2 1948.5 L1540.4 1948.5 L1549.8 1881.1 L1559.2 1881.1 L1568.6 1676.9 L1578.0 1648.1 L1634.4 1648.1 L1643.8 1601.3 L1662.6 1601.3 L1672.0 1600.4 L1719.0 1600.4 L1728.4 1598.8 L1737.8 1595.9 L1747.2 1595.9 L1756.6 1510.7 L1766.0 1505.7 L1803.6 1505.7 L1813.0 1394.0 L1841.2 1394.0 L1850.6 1391.9 L1878.8 1391.9 L1888.2 1390.6 L1916.4 1390.6 L1925.8 1354.1 L1935.2 1353.1 L1944.6 1353.1 L1954.0 1277.5 L1963.4 1252.6 L2019.8 1252.6 L2029.2 1248.2 L2104.4 1248.2 L2113.8 1188.2 L2379.6 1188.2 L3674.2 1188.2" stroke="#1273b1"/>
<path d="M243.2 2118.3 L732.0 2118.3 L741.4 2091.6 L854.2 2091.6 L863.6 2086.6 L910.6 2086.6 L920.0 2067.0 L938.8 2067.0 L948.2 2058.8 L957.6 2058.8 L967.0 2052.0 L1061.0 2052.0 L1070.4 2045.2 L1164.4 2045.2 L1173.8 2017.8 L1220.8 2017.8 L1230.2 2001.1 L1239.6 2001.1 L1249.0 1999.2 L1314.8 1999.2 L1324.2 1973.0 L1333.6 1949.7 L1390.0 1949.7 L1399.4 1942.9 L1408.8 1942.9 L1418.2 1925.7 L1484.0 1925.7 L1493.4 1845.2 L1559.2 1845.2 L1568.6 1834.7 L1587.4 1834.7 L1596.8 1774.6 L1653.2 1774.6 L1662.6 1702.1 L1681.4 1702.1 L1690.8 1545.7 L1709.6 1545.7 L1719.0 1496.9 L1775.4 1496.9 L1784.8 1475.8 L1794.2 1364.3 L1803.6 1364.3 L1813.0 1254.1 L1888.2 1254.1 L1897.6 1248.1 L2001.0 1248.1 L2010.4 1246.6 L2388.4 1246.6 L3674.2 1246.6" stroke="#2081b9"/>
<path d="M243.2 2118.3 L553.4 2118.3 L562.8 2097.1 L581.6 2097.1 L591.0 2074.2 L600.4 2074.2 L609.8 2054.0 L741.4 2054.0 L750.8 2041.8 L760.2 1936.8 L844.8 1936.8 L854.2 1935.0 L901.2 1935.0 L910.6 1803.0 L1108.0 1803.0 L1117.4 1784.8 L1155.0 1784.8 L1164.4 1783.6 L1173.8 1783.6 L1183.2 1748.3 L1192.6 1748.3 L1202.0 1745.3 L1249.0 1745.3 L1258.4 1725.8 L1267.8 1725.8 L1277.2 1689.0 L1296.0 1689.0 L1305.4 1677.8 L1371.2 1677.8 L1380.6 1659.5 L1474.6 1659.5 L1484.0 1646.1 L1493.4 1644.7 L1502.8 1644.7 L1512.2 1603.7 L1568.6 1603.7 L1578.0 1586.5 L1606.2 1586.5 L1615.6 1568.3 L2124.4 1568.3 L3674.2 1568.3" stroke="#63bfcc"/>
<path d="M243.2 2118.3 L384.2 2118.3 L393.6 2114.4 L647.4 2114.4 L656.8 2088.7 L675.6 2088.7 L685.0 2082.8 L750.8 2082.8 L760.2 2082.4 L788.4 2082.4 L797.8 2030.5 L807.2 2016.3 L957.6 2016.3 L967.0 1968.0 L976.4 1945.8 L985.8 1827.4 L1023.4 1827.4 L1032.8 1794.5 L1042.2 1732.7 L1126.8 1732.7 L1136.2 1618.0 L1145.6 1618.0 L1155.0 1571.2 L1164.4 1529.7 L1183.2 1529.7 L1192.6 1527.9 L1202.0 1527.9 L1211.4 1500.5 L1277.2 1500.5 L1286.6 1459.0 L1305.4 1459.0 L1314.8 1388.2 L1333.6 1388.2 L1343.0 1357.0 L1352.4 1357.0 L1361.8 1314.6 L1371.2 1314.4 L1418.2 1314.4 L1427.6 1246.0 L1437.0 1246.0 L1446.4 1239.5 L1455.8 1238.0 L1512.2 1238.0 L1521.6 1208.0 L1549.8 1208.0 L1559.2 1113.5 L1578.0 1113.5 L1587.4 1104.7 L1596.8 1104.7 L1606.2 1049.7 L1615.6 1049.6 L1672.0 1049.6 L1681.4 1010.5 L1690.8 997.8 L1709.6 997.8 L1719.0 910.4 L1728.2 910.4 L1737.4 838.3 L1748.2 819.1 L1859.5 819.1 L1868.3 800.3 L1878.3 742.2 L2122.5 742.2 L2132.5 645.4 L2142.5 637.8 L3674.2 638.2" stroke="#084688"/>
<path d="M243.2 2118.3 L337.2 2118.3 L346.6 2117.9 L403.0 2117.9 L412.4 2074.3 L553.4 2074.3 L562.8 2034.9 L572.2 2034.9 L581.6 2000.8 L694.4 2000.8 L703.8 1908.8 L750.8 1908.8 L760.2 1904.9 L769.6 1904.9 L779.0 1899.3 L788.4 1899.3 L797.8 1834.0 L807.2 1832.9 L816.6 1832.9 L826.0 1794.9 L835.4 1794.9 L844.8 1729.0 L891.8 1729.0 L901.2 1723.5 L910.6 1723.5 L920.0 1698.6 L929.4 1685.6 L938.8 1671.2 L967.0 1671.2 L976.4 1619.9 L985.8 1619.9 L995.2 1550.4 L1004.6 1548.9 L1014.0 1548.9 L1023.4 1492.7 L1032.8 1429.7 L1042.2 1426.9 L1051.6 1426.9 L1061.0 1420.2 L1070.4 1413.0 L1073.6 1413.0 L1079.8 1378.3 L1211.5 1378.3 L1220.8 1335.5 L1230.1 1319.4 L1293.6 1319.4 L1296.0 1319.4 L1305.4 1287.4 L1380.6 1287.4 L1390.0 1252.4 L1615.6 1252.4 L1625.0 1241.4 L1653.2 1241.4 L1662.6 1184.6 L1690.8 1184.6 L1700.2 1183.8 L1709.6 1183.8 L1719.0 1128.1 L1775.4 1128.1 L1784.8 1074.5 L1813.0 1074.5 L1822.4 1074.5 L1850.6 1074.5 L1860.0 1030.6 L1888.2 1030.6 L1897.6 1024.6 L1944.6 1024.6 L1954.0 993.1 L2001.0 993.1 L2010.4 964.3 L2019.8 955.6 L2029.2 901.1 L2113.8 901.1 L2123.2 880.5 L2307.4 880.5 L3674.2 880.5" stroke="#085294"/>
<path d="M243.2 2118.3 L807.2 2118.3 L816.6 2113.9 L854.2 2113.9 L863.6 2084.2 L1070.4 2084.2 L1079.8 2057.2 L1089.2 2057.2 L1098.6 2020.8 L1136.2 2020.8 L1145.6 2019.9 L1192.6 2019.9 L1202.0 1992.2 L1267.8 1992.2 L1277.2 1981.3 L1305.4 1981.3 L1314.8 1919.3 L1418.2 1919.3 L1427.6 1900.3 L1672.0 1900.3 L1681.4 1861.9 L1756.6 1861.9 L1766.0 1821.6 L2019.8 1821.6 L2029.2 1801.6 L2038.6 1801.6 L2048.0 1711.9 L2142.0 1711.9 L2151.4 1707.1 L2424.0 1707.1 L3674.2 1707.1" stroke="#72c7c7"/>
<path d="M243.2 2118.3 L459.4 2118.3 L468.8 2089.5 L1117.4 2089.5 L1126.8 2067.3 L1305.4 2067.3 L1314.8 2040.0 L1400.0 2040.0 L1430.8 2017.9 L1444.0 2006.9 L1455.0 1987.1 L1472.7 1987.1 L1492.5 1979.6 L1512.3 1978.3 L1521.1 1938.7 L1560.7 1937.8 L1569.5 1922.0 L3674.2 1922.2" stroke="#7bccc4"/>
<path d="M243.2 2118.3 L440.6 2118.3 L450.0 2084.9 L581.6 2084.9 L591.0 2069.1 L995.2 2069.1 L1004.6 2009.8 L1098.6 2009.8 L1108.0 1955.8 L1126.8 1955.8 L1136.2 1947.2 L1192.6 1947.2 L1202.0 1944.1 L1220.8 1944.1 L1230.2 1943.2 L1258.4 1943.2 L1267.8 1903.0 L1277.2 1887.5 L1286.6 1858.7 L1296.0 1797.7 L1324.2 1797.7 L1333.6 1788.0 L1343.0 1786.6 L1352.4 1786.6 L1361.8 1773.3 L1380.6 1773.3 L1390.0 1689.1 L1399.4 1676.9 L1408.8 1673.6 L1418.2 1653.6 L1465.2 1653.6 L1474.6 1477.3 L1484.0 1447.4 L1493.4 1406.1 L1521.6 1406.1 L1531.0 1404.5 L1549.8 1404.5 L1559.2 1261.2 L1784.8 1261.2 L1794.2 1256.0 L1954.0 1256.0 L1963.4 1237.2 L1972.8 1192.5 L2335.3 1192.5 L3674.2 1192.5" stroke="#1575b3"/>
<path d="M243.2 2118.3 L459.4 2118.3 L468.8 2072.8 L1032.8 2072.8 L1042.2 2038.3 L1051.6 2010.4 L1079.8 2010.4 L1089.2 1979.2 L1126.8 1979.2 L1136.2 1867.7 L1211.4 1867.7 L1220.8 1833.9 L1258.4 1833.9 L1267.8 1820.2 L1333.6 1820.2 L1343.0 1807.3 L1371.2 1807.3 L1380.6 1729.7 L1427.6 1729.7 L1437.0 1694.6 L1493.4 1694.6 L1502.8 1690.2 L1521.6 1690.2 L1531.0 1689.7 L1578.0 1689.7 L1587.4 1649.2 L1747.2 1649.2 L1756.6 1643.8 L1784.8 1643.8 L1794.2 1643.4 L1822.4 1643.4 L1831.8 1640.3 L1860.0 1640.3 L1869.4 1621.9 L2295.4 1621.9 L3674.2 1621.9" stroke="#6bc3c9"/>
<path d="M243.2 2118.3 L600.4 2118.3 L609.8 2108.9 L703.8 2108.9 L713.2 2105.4 L769.6 2105.4 L779.0 2097.5 L797.8 2097.5 L807.2 2020.2 L891.8 2020.2 L901.2 1947.3 L985.8 1947.3 L995.2 1940.6 L1023.4 1940.6 L1032.8 1939.8 L1098.6 1939.8 L1108.0 1928.8 L1136.2 1928.8 L1145.6 1919.7 L1155.0 1896.8 L1192.6 1896.8 L1202.0 1860.2 L1239.6 1860.2 L1249.0 1853.4 L1258.4 1835.1 L1361.8 1835.1 L1371.2 1811.9 L1399.4 1811.9 L1408.8 1747.1 L1418.2 1747.1 L1427.6 1721.7 L1474.6 1721.7 L1484.0 1568.7 L1493.4 1568.7 L1502.8 1545.1 L1634.4 1545.1 L1643.8 1501.1 L1672.0 1501.1 L1681.4 1477.9 L1700.2 1477.9 L1709.6 1424.7 L1784.8 1424.7 L1794.2 1419.5 L1907.0 1419.5 L1916.4 1343.2 L2066.8 1343.2 L2076.2 1283.9 L2424.0 1283.9 L3674.2 1283.9" stroke="#2a8bbe"/>
<path d="M243.2 2118.3 L609.8 2118.3 L619.2 2109.8 L1042.2 2109.8 L1051.6 2099.2 L1117.4 2099.2 L1126.8 2073.2 L1136.2 2073.2 L1145.6 2023.8 L1155.0 2020.3 L1220.8 2020.3 L1230.2 2018.0 L1239.6 2018.0 L1249.0 1949.0 L1258.4 1916.3 L1296.0 1916.3 L1305.4 1835.7 L1465.2 1835.7 L1474.6 1831.4 L1531.0 1831.4 L1540.4 1820.7 L1606.2 1820.7 L1615.6 1816.4 L1625.0 1816.4 L1634.4 1642.1 L1747.2 1642.1 L1756.6 1630.2 L1813.0 1630.2 L1822.4 1627.9 L1907.0 1627.9 L1916.4 1621.5 L2254.8 1621.5 L2264.2 1599.4 L2424.0 1599.4 L3674.2 1599.4" stroke="#67c1cb"/>
<path d="M243.2 2118.3 L741.4 2118.3 L750.8 2089.1 L826.0 2089.1 L835.4 2082.3 L985.8 2082.3 L995.2 2078.1 L1042.2 2078.1 L1051.6 2078.0 L1145.6 2078.0 L1155.0 2075.8 L1164.4 2065.1 L1249.0 2065.1 L1258.4 2062.4 L1371.2 2062.4 L1380.6 2058.8 L1390.0 1977.8 L1446.4 1977.8 L1455.8 1963.3 L1465.2 1944.2 L1484.0 1944.2 L1493.4 1923.1 L1540.4 1923.1 L1549.8 1921.3 L1568.6 1921.3 L1578.0 1606.1 L1615.6 1606.1 L1625.0 1559.9 L1775.4 1559.9 L1784.8 1539.3 L1794.2 1536.4 L1822.4 1536.4 L1831.8 1409.7 L1897.6 1409.7 L1907.0 1409.4 L2038.6 1409.4 L2048.0 1396.5 L2359.8 1396.5 L3674.2 1396.5" stroke="#3ea1c9"/>
<path d="M243.2 2118.3 L456.1 2118.3 L456.6 2107.2 L459.3 2020.0 L468.5 2019.5 L479.1 2000.2 L487.0 1991.5 L583.5 1991.5 L591.4 1980.4 L600.6 1979.9 L609.9 1961.9 L636.3 1961.9 L769.6 1961.9 L779.0 1961.1 L826.0 1961.1 L835.4 1953.7 L854.2 1953.7 L863.6 1930.3 L873.0 1930.3 L882.4 1917.1 L957.6 1917.1 L967.0 1790.6 L976.4 1790.6 L985.8 1764.0 L995.2 1764.0 L1004.6 1763.6 L1042.2 1763.6 L1051.6 1763.4 L1070.4 1763.4 L1079.8 1648.8 L1117.4 1648.8 L1126.8 1641.3 L1145.6 1641.3 L1155.0 1622.5 L1202.0 1622.5 L1211.4 1496.5 L1230.2 1496.5 L1239.6 1476.1 L1267.8 1476.1 L1277.2 1434.3 L1296.0 1434.3 L1305.4 1431.6 L1333.6 1431.6 L1343.0 1422.4 L1352.4 1411.0 L1361.8 1408.4 L1371.2 1339.5 L1380.6 1339.5 L1390.0 1327.3 L1446.4 1327.3 L1455.8 1289.6 L1465.2 1286.9 L1540.4 1286.9 L1549.8 1268.4 L1578.0 1268.4 L1587.4 1262.3 L1690.8 1262.3 L1700.2 1233.6 L1747.2 1233.6 L1756.6 1085.5 L1803.6 1085.5 L1813.0 1041.2 L1822.4 1041.2 L1831.8 991.1 L1935.2 991.1 L1944.6 989.8 L1954.0 981.7 L2038.6 981.7 L2048.0 975.4 L2195.6 975.4 L3674.2 975.4" stroke="#085a9d"/>
<path d="M243.2 2118.3 L675.6 2118.3 L685.0 2097.3 L967.0 2097.3 L976.4 2095.6 L1098.6 2095.6 L1108.0 2090.4 L1117.4 2045.6 L1126.8 2045.6 L1136.2 2021.0 L1173.8 2021.0 L1183.2 1969.3 L1192.6 1969.3 L1202.0 1958.5 L1211.4 1958.5 L1220.8 1917.4 L1230.2 1817.0 L1239.6 1817.0 L1249.0 1800.1 L1314.8 1800.1 L1324.2 1767.8 L1333.6 1694.4 L1352.4 1694.4 L1361.8 1670.2 L1446.4 1670.2 L1455.8 1643.1 L1465.2 1643.1 L1474.6 1641.0 L1531.0 1641.0 L1540.4 1634.0 L1615.6 1634.0 L1625.0 1597.9 L1653.2 1597.9 L1662.6 1595.6 L1690.8 1595.6 L1700.2 1573.4 L1803.6 1573.4 L1813.0 1572.7 L1822.4 1565.4 L1831.8 1548.1 L1972.8 1548.1 L1982.2 1545.9 L2414.8 1545.9 L3674.2 1545.9" stroke="#60bdcd"/>
<path d="M243.2 2118.3 L525.2 2118.3 L534.6 2118.1 L544.0 2118.1 L553.4 2113.9 L675.6 2113.9 L685.0 2098.9 L732.0 2098.9 L741.4 2091.1 L788.4 2091.1 L797.8 2069.7 L807.2 2069.7 L816.6 2062.1 L920.0 2062.1 L929.4 2056.6 L938.8 2056.6 L948.2 2010.6 L995.2 2010.6 L1004.6 2005.1 L1032.8 2005.1 L1042.2 1970.9 L1155.0 1970.9 L1164.4 1874.4 L1202.0 1874.4 L1211.4 1855.9 L1267.8 1855.9 L1277.2 1706.8 L1286.6 1706.8 L1296.0 1646.2 L1390.0 1646.2 L1399.4 1637.9 L1521.6 1637.9 L1531.0 1603.5 L1540.4 1593.1 L1615.6 1593.1 L1625.0 1580.8 L1634.4 1580.8 L1643.8 1447.6 L1681.4 1447.6 L1690.8 1430.6 L1700.2 1429.3 L1709.6 1397.6 L1775.4 1397.6 L1784.8 1391.6 L2019.8 1391.6 L2029.2 1345.5 L2038.6 1345.5 L2048.0 1249.1 L2261.3 1249.1 L3674.2 1249.1" stroke="#2283b9"/>
<path d="M243.2 2118.3 L497.0 2118.3 L506.4 2092.7 L891.8 2092.7 L901.2 2060.9 L929.4 2060.9 L938.8 2042.0 L1070.4 2042.0 L1079.8 1981.6 L1145.6 1981.6 L1155.0 1819.5 L1202.0 1819.5 L1211.4 1794.2 L1239.6 1794.2 L1249.0 1772.8 L1267.8 1772.8 L1277.2 1768.2 L1286.6 1707.2 L1296.0 1680.2 L1305.4 1672.7 L1399.4 1672.7 L1408.8 1671.1 L1465.2 1671.1 L1474.6 1624.7 L1493.4 1624.7 L1502.8 1596.0 L1540.4 1596.0 L1549.8 1591.6 L1559.2 1591.6 L1568.6 1549.6 L1578.0 1530.1 L1615.6 1530.1 L1625.0 1509.6 L1634.4 1467.1 L1643.8 1467.1 L1653.2 1433.1 L1662.6 1418.7 L1681.4 1418.7 L1690.8 1391.2 L1700.2 1391.2 L1709.6 1333.4 L1728.4 1333.4 L1737.8 1292.1 L1766.0 1292.1 L1775.4 1284.4 L1822.4 1284.4 L1831.8 1248.9 L1841.2 1216.3 L1850.6 1216.3 L1860.0 1202.8 L1869.4 1202.8 L1878.8 1193.2 L1954.0 1193.2 L1963.4 1178.8 L2048.0 1178.8 L2057.4 1170.7 L2217.1 1170.7 L3674.2 1170.7" stroke="#0f70b0"/>
<path d="M243.2 2118.3 L403.0 2118.3 L412.4 2084.4 L515.8 2084.4 L525.2 2049.7 L562.8 2049.7 L572.2 2049.1 L628.6 2049.1 L638.0 2039.7 L741.4 2039.7 L750.8 2018.7 L816.6 2018.7 L826.0 2003.6 L835.4 2003.6 L844.8 1935.5 L891.8 1935.5 L901.2 1821.0 L929.4 1821.0 L938.8 1759.7 L1014.0 1759.7 L1023.4 1723.9 L1032.8 1723.9 L1042.2 1675.0 L1061.0 1675.0 L1070.4 1628.0 L1079.8 1566.9 L1089.2 1530.2 L1108.0 1530.2 L1117.4 1503.6 L1126.8 1459.9 L1145.6 1459.9 L1155.0 1428.6 L1164.4 1380.7 L1173.8 1356.5 L1239.6 1356.5 L1249.0 1343.7 L1258.4 1343.7 L1267.8 1330.8 L1286.6 1330.8 L1296.0 1329.9 L1305.4 1329.9 L1314.8 1254.5 L1418.2 1254.5 L1427.6 1252.6 L1455.8 1252.6 L1465.2 1220.1 L1474.6 1220.1 L1484.0 1204.1 L1531.0 1204.1 L1540.4 1190.7 L1568.6 1190.7 L1578.0 1186.5 L1587.4 1186.5 L1775.4 1186.5 L1784.8 1147.1 L2019.8 1147.1 L2029.2 1146.2 L2093.0 1146.2 L3674.2 1146.2" stroke="#0d6dae"/>
<path d="M243.2 2118.3 L769.6 2118.3 L779.0 2108.7 L873.0 2108.7 L882.4 2009.8 L1014.0 2009.8 L1023.4 2009.2 L1098.6 2009.2 L1108.0 1962.5 L1126.8 1962.5 L1136.2 1950.7 L1145.6 1950.7 L1155.0 1751.3 L1211.4 1751.3 L1220.8 1717.7 L1239.6 1717.7 L1249.0 1676.5 L1371.2 1676.5 L1380.6 1664.3 L1399.4 1664.3 L1408.8 1637.1 L1427.6 1637.1 L1437.0 1622.0 L1455.8 1622.0 L1465.2 1621.9 L1512.2 1621.9 L1521.6 1620.1 L1549.8 1620.1 L1559.2 1599.1 L1596.8 1599.1 L1606.2 1597.2 L1662.6 1597.2 L1672.0 1591.1 L1690.8 1591.1 L1700.2 1587.3 L1709.6 1568.8 L1775.4 1568.8 L1784.8 1468.7 L1841.2 1468.7 L1850.6 1408.8 L1925.8 1408.8 L1935.2 1398.7 L2298.8 1398.7 L3674.2 1398.7" stroke="#40a3ca"/>
<path d="M243.2 2118.3 L318.2 2118.3 L320.6 2107.2 L327.2 2078.2 L530.6 2078.2 L647.4 2078.2 L656.8 2075.8 L703.8 2075.8 L713.2 2033.5 L835.4 2033.5 L844.8 2026.7 L910.6 2026.7 L920.0 2023.4 L948.2 2023.4 L957.6 2011.9 L1089.2 2011.9 L1098.6 1991.1 L1108.0 1991.1 L1117.4 1973.3 L1126.8 1963.6 L1267.8 1963.6 L1277.2 1954.6 L1296.0 1954.6 L1305.4 1828.2 L1399.4 1828.2 L1408.8 1828.2 L1455.8 1828.2 L1465.2 1826.1 L1568.6 1826.1 L1578.0 1786.6 L1625.0 1786.6 L1634.4 1779.3 L1719.0 1779.3 L1728.4 1744.3 L1737.8 1744.3 L1747.2 1743.4 L1831.8 1743.4 L1841.2 1692.2 L1878.8 1692.2 L1888.2 1602.5 L2229.2 1602.5 L3674.2 1602.5" stroke="#69c2ca"/>
<path d="M243.2 2118.3 L525.2 2118.3 L534.6 2091.5 L694.4 2091.5 L703.8 2078.3 L713.2 2078.3 L722.6 2015.9 L741.4 2015.9 L750.8 2013.2 L788.4 2013.2 L797.8 2008.3 L863.6 2008.3 L873.0 1996.7 L891.8 1996.7 L901.2 1975.3 L929.4 1975.3 L938.8 1961.2 L1042.2 1961.2 L1051.6 1945.2 L1079.8 1945.2 L1089.2 1945.0 L1098.6 1945.0 L1126.8 1945.0 L1136.2 1822.7 L1164.4 1822.7 L1173.8 1767.7 L1183.2 1767.7 L1192.6 1765.3 L1202.0 1758.7 L1211.4 1758.7 L1220.8 1577.3 L1230.2 1577.3 L1239.6 1570.4 L1249.0 1541.3 L1267.8 1541.3 L1277.2 1533.6 L1286.6 1532.4 L1324.2 1532.4 L1333.6 1478.3 L1371.2 1478.3 L1380.6 1447.5 L1484.0 1447.5 L1493.4 1447.4 L1512.2 1447.4 L1521.6 1372.9 L1540.4 1372.9 L1549.8 1372.0 L1700.2 1372.0 L1709.6 1264.5 L1747.2 1264.5 L1756.6 1243.4 L1766.0 1178.2 L1775.4 1162.2 L1831.8 1162.2 L1841.2 1151.8 L1850.6 1151.8 L1860.0 1133.0 L1869.4 1129.7 L1916.4 1129.7 L1925.8 1075.3 L1935.2 1027.0 L1944.6 1020.5 L2335.0 1020.5 L3674.2 1020.5" stroke="#0860a4"/>
<path d="M243.2 2118.3 L412.4 2118.3 L421.8 2095.4 L638.0 2095.4 L647.4 2081.2 L703.8 2081.2 L713.2 2075.1 L732.0 2075.1 L741.4 2072.9 L750.8 2043.9 L835.4 2043.9 L844.8 2019.1 L854.2 2019.1 L863.6 2009.7 L873.0 2009.7 L882.4 1941.4 L938.8 1941.4 L948.2 1938.0 L1004.6 1938.0 L1014.0 1922.1 L1032.8 1922.1 L1042.2 1836.4 L1051.6 1836.4 L1061.0 1811.6 L1136.2 1811.6 L1145.6 1786.8 L1155.0 1781.1 L1164.4 1781.1 L1173.8 1777.3 L1183.2 1777.3 L1192.6 1750.5 L1202.0 1727.2 L1211.4 1690.8 L1277.2 1690.8 L1286.6 1645.0 L1296.0 1645.0 L1305.4 1600.9 L1343.0 1600.9 L1352.4 1559.3 L1418.2 1559.3 L1427.6 1415.4 L1437.0 1363.7 L1606.2 1363.7 L1615.6 1342.5 L1662.6 1342.5 L1672.0 1320.5 L1681.4 1311.0 L1737.8 1311.0 L1747.2 1258.2 L1775.4 1258.2 L1784.8 1166.1 L1888.2 1166.1 L1897.6 1165.2 L2181.7 1165.2 L3674.2 1165.3" stroke="#0e6eaf"/>
<path d="M243.2 2118.3 L534.6 2118.3 L544.0 2114.5 L685.0 2114.5 L694.4 2111.0 L844.8 2111.0 L854.2 2083.7 L882.4 2083.7 L891.8 2025.8 L901.2 1918.4 L938.8 1918.4 L948.2 1909.5 L957.6 1903.0 L967.0 1903.0 L976.4 1859.0 L995.2 1859.0 L1004.6 1837.7 L1014.0 1823.9 L1023.4 1796.6 L1042.2 1796.6 L1051.6 1792.2 L1061.0 1752.1 L1089.2 1752.1 L1098.6 1743.6 L1108.0 1743.6 L1117.4 1719.3 L1126.8 1714.2 L1145.6 1714.2 L1155.0 1703.2 L1164.4 1703.2 L1173.8 1549.5 L1230.2 1549.5 L1239.6 1457.0 L1286.6 1457.0 L1296.0 1455.4 L1305.4 1455.4 L1314.8 1411.2 L1333.6 1411.2 L1343.0 1398.6 L1371.2 1398.6 L1380.6 1380.2 L1446.4 1380.2 L1455.8 1289.2 L1465.2 1288.2 L1474.6 1288.2 L1484.0 1279.4 L1502.8 1279.4 L1512.2 1229.1 L1540.4 1229.1 L1549.8 1190.1 L1568.6 1190.1 L1578.0 1112.8 L1587.4 1077.3 L1606.2 1077.3 L1615.6 1024.3 L1625.0 1024.3 L1634.4 1018.7 L1643.8 1001.1 L1700.2 1001.1 L1709.6 911.3 L1719.0 896.4 L1728.0 896.4 L1782.2 896.4 L1794.2 759.1 L1804.2 755.5 L2028.4 755.5 L2038.4 748.2 L3674.2 748.8" stroke="#084a8b"/>
<path d="M243.2 2118.3 L562.8 2118.3 L572.2 2108.8 L609.8 2108.8 L619.2 2090.1 L628.6 2090.1 L638.0 2011.0 L995.2 2011.0 L1004.6 2000.3 L1014.0 1971.2 L1108.0 1971.2 L1117.4 1908.2 L1145.6 1908.2 L1155.0 1835.7 L1164.4 1800.0 L1173.8 1716.0 L1183.2 1716.0 L1192.6 1714.0 L1220.8 1714.0 L1230.2 1713.5 L1239.6 1710.7 L1249.0 1710.7 L1258.4 1670.7 L1286.6 1670.7 L1296.0 1587.7 L1371.2 1587.7 L1380.6 1576.6 L1399.4 1576.6 L1408.8 1549.8 L1446.4 1549.8 L1455.8 1548.0 L1465.2 1438.6 L1474.6 1438.6 L1484.0 1344.4 L1493.4 1312.5 L1502.8 1265.4 L1512.2 1265.4 L1521.6 1233.2 L1568.6 1233.2 L1578.0 1223.5 L1643.8 1223.5 L1653.2 1222.4 L1662.6 1222.4 L1672.0 1212.5 L1681.4 1212.5 L1690.8 1082.9 L1813.0 1082.9 L1822.4 1050.7 L1991.6 1050.7 L2001.0 1042.5 L2057.4 1042.5 L2066.8 1009.8 L2076.2 1009.8 L2085.6 1005.4 L2268.4 1005.4 L3674.2 1005.4" stroke="#085fa2"/>
<path d="M243.2 2118.3 L826.0 2118.3 L835.4 2096.7 L844.8 2096.7 L854.2 2008.5 L957.6 2008.5 L967.0 1886.6 L976.4 1884.5 L1032.8 1884.5 L1042.2 1883.2 L1070.4 1883.2 L1079.8 1876.4 L1089.2 1844.7 L1098.6 1844.7 L1108.0 1746.8 L1136.2 1746.8 L1145.6 1744.6 L1183.2 1744.6 L1192.6 1740.9 L1314.8 1740.9 L1324.2 1708.2 L1352.4 1708.2 L1361.8 1688.2 L1380.6 1688.2 L1390.0 1652.2 L1455.8 1652.2 L1465.2 1650.0 L1653.2 1650.0 L1662.6 1636.3 L1700.2 1636.3 L1709.6 1584.9 L1728.4 1584.9 L1737.8 1541.3 L1766.0 1541.3 L1775.4 1531.3 L1803.6 1531.3 L1813.0 1450.6 L1907.0 1450.6 L1916.4 1367.0 L2113.8 1367.0 L2123.2 1300.6 L2264.9 1300.6 L3674.2 1300.6" stroke="#2f90c0"/>
<path d="M243.2 2118.3 L478.2 2118.3 L487.6 2105.6 L675.6 2105.6 L685.0 1991.9 L694.4 1983.2 L901.2 1983.2 L910.6 1974.5 L995.2 1974.5 L1004.6 1844.9 L1145.6 1844.9 L1155.0 1815.3 L1258.4 1815.3 L1267.8 1784.8 L1286.6 1784.8 L1296.0 1740.7 L1352.4 1740.7 L1361.8 1725.5 L1427.6 1725.5 L1437.0 1724.8 L1455.8 1724.8 L1465.2 1688.5 L1568.6 1688.5 L1578.0 1681.7 L1587.4 1635.9 L1606.2 1635.9 L1615.6 1626.3 L1690.8 1626.3 L1700.2 1565.9 L1709.6 1564.6 L1803.6 1564.6 L1813.0 1564.5 L1831.8 1564.5 L1841.2 1548.5 L1954.0 1548.5 L1963.4 1528.1 L2019.8 1528.1 L2029.2 1517.4 L2095.0 1517.4 L2104.4 1511.7 L2183.8 1511.7 L3674.2 1511.7" stroke="#58b9d0"/>
<path d="M243.2 2118.3 L412.4 2118.3 L421.8 2100.6 L450.0 2100.6 L459.4 2069.6 L591.0 2069.6 L600.4 2044.7 L797.8 2044.7 L807.2 2036.1 L863.6 2036.1 L873.0 2010.4 L901.2 2010.4 L910.6 1881.7 L995.2 1881.7 L1004.6 1877.0 L1126.8 1877.0 L1136.2 1784.9 L1173.8 1784.9 L1183.2 1782.1 L1192.6 1773.8 L1267.8 1773.8 L1277.2 1763.8 L1296.0 1763.8 L1305.4 1692.0 L1380.6 1692.0 L1390.0 1626.8 L1399.4 1626.8 L1408.8 1602.8 L1437.0 1602.8 L1446.4 1592.4 L1465.2 1592.4 L1474.6 1536.9 L1484.0 1536.9 L1493.4 1480.3 L1549.8 1480.3 L1559.2 1432.9 L1587.4 1432.9 L1596.8 1297.8 L1625.0 1297.8 L1634.4 1297.0 L1643.8 1297.0 L1653.2 1261.5 L1690.8 1261.5 L1700.2 1213.8 L1775.4 1213.8 L1784.8 1199.3 L1822.4 1199.3 L1831.8 1192.6 L1841.2 1192.5 L1860.0 1192.5 L1869.4 1118.4 L1907.0 1118.4 L1916.4 1027.1 L1935.2 1027.1 L1944.6 958.7 L1963.4 958.7 L1972.8 953.0 L2001.0 953.0 L2010.4 947.9 L2019.8 946.0 L2029.2 905.0 L2038.6 895.9 L2048.0 895.9 L2057.4 884.5 L2076.2 884.5 L2085.6 884.4 L2424.0 884.4 L3674.2 884.4" stroke="#085396"/>
<path d="M243.2 2118.3 L713.2 2118.3 L722.6 2106.8 L844.8 2106.8 L854.2 2096.1 L901.2 2096.1 L910.6 2095.9 L1042.2 2095.9 L1051.6 2095.6 L1126.8 2095.6 L1136.2 1969.9 L1192.6 1969.9 L1202.0 1961.1 L1230.2 1961.1 L1239.6 1954.1 L1249.0 1926.2 L1286.6 1926.2 L1296.0 1848.5 L1314.8 1848.5 L1324.2 1795.4 L1408.8 1795.4 L1418.2 1747.9 L1512.2 1747.9 L1521.6 1680.9 L1615.6 1680.9 L1625.0 1667.9 L1634.4 1667.9 L1643.8 1634.0 L1653.2 1627.4 L1662.6 1627.4 L1672.0 1626.8 L1681.4 1626.8 L1690.8 1609.3 L1700.2 1609.3 L1709.6 1588.2 L1728.4 1588.2 L1737.8 1570.7 L1784.8 1570.7 L1794.2 1532.4 L1803.6 1532.4 L1813.0 1484.1 L1878.8 1484.1 L1888.2 1479.2 L2019.8 1479.2 L2029.2 1471.4 L2076.2 1471.4 L2085.6 1397.0 L2095.0 1371.0 L2327.6 1371.0 L3674.2 1371.0" stroke="#3799c5"/>
<path d="M243.2 2118.3 L515.8 2118.3 L525.2 2108.6 L863.6 2108.6 L873.0 2103.7 L1032.8 2103.7 L1042.2 2006.1 L1051.6 2006.1 L1061.0 2000.2 L1098.6 2000.2 L1108.0 1913.5 L1164.4 1913.5 L1173.8 1897.0 L1183.2 1897.0 L1192.6 1880.9 L1220.8 1880.9 L1230.2 1875.3 L1267.8 1875.3 L1277.2 1869.2 L1296.0 1869.2 L1305.4 1864.1 L1371.2 1864.1 L1380.6 1809.0 L1390.0 1809.0 L1399.4 1667.1 L1408.8 1666.9 L1427.6 1666.9 L1437.0 1649.9 L1540.4 1649.9 L1549.8 1644.2 L1596.8 1644.2 L1606.2 1629.5 L1672.0 1629.5 L1681.4 1609.8 L1728.4 1609.8 L1737.8 1480.3 L1747.2 1451.9 L1756.6 1451.9 L1766.0 1383.0 L1803.6 1383.0 L1813.0 1382.3 L1822.4 1299.9 L1831.8 1299.9 L1841.2 1267.1 L1850.6 1267.1 L1860.0 1248.0 L1869.4 1211.4 L1888.2 1211.4 L1897.6 1090.6 L1907.0 1090.6 L1916.4 1087.7 L2010.4 1087.7 L2019.8 985.8 L2123.2 985.8 L2132.6 943.3 L2291.3 943.3 L3674.2 943.3" stroke="#08589b"/>
<path d="M243.2 2118.3 L769.6 2118.3 L779.0 2082.4 L1042.2 2082.4 L1051.6 2080.5 L1136.2 2080.5 L1145.6 2067.8 L1155.0 2067.8 L1164.4 2020.2 L1183.2 2020.2 L1192.6 1922.7 L1230.2 1922.7 L1239.6 1789.7 L1249.0 1784.9 L1258.4 1758.4 L1267.8 1739.9 L1380.6 1739.9 L1390.0 1724.9 L1399.4 1724.9 L1408.8 1696.5 L1559.2 1696.5 L1568.6 1684.2 L1578.0 1684.2 L1587.4 1683.9 L1625.0 1683.9 L1634.4 1678.6 L1662.6 1678.6 L1672.0 1669.3 L1681.4 1669.3 L1690.8 1636.0 L1831.8 1636.0 L1841.2 1565.9 L1850.6 1511.3 L1954.0 1511.3 L1963.4 1510.1 L2010.4 1510.1 L2019.8 1461.0 L2160.8 1461.0 L2170.2 1452.6 L2198.4 1452.6 L2207.8 1418.1 L2355.0 1418.1 L3674.2 1418.1" stroke="#44a8cd"/>
<path d="M243.2 2118.3 L327.2 2118.3 L329.8 2107.2 L345.7 2039.0 L675.9 2039.0 L722.6 2039.0 L732.0 2016.3 L741.4 2013.1 L938.8 2013.1 L948.2 1993.1 L957.6 1970.8 L1032.8 1970.8 L1042.2 1968.8 L1061.0 1968.8 L1070.4 1946.1 L1089.2 1946.1 L1098.6 1854.9 L1108.0 1854.9 L1117.4 1842.6 L1126.8 1804.6 L1136.2 1804.6 L1145.6 1741.2 L1211.4 1741.2 L1220.8 1673.8 L1230.2 1671.6 L1277.2 1671.6 L1286.6 1560.0 L1305.4 1560.0 L1314.8 1554.8 L1333.6 1554.8 L1343.0 1518.6 L1465.2 1518.6 L1474.6 1488.1 L1540.4 1488.1 L1549.8 1483.2 L1559.2 1483.2 L1568.6 1479.3 L1578.0 1479.3 L1587.4 1478.9 L1662.6 1478.9 L1672.0 1429.8 L1794.2 1429.8 L1803.6 1422.3 L1813.0 1418.5 L1822.4 1418.5 L1831.8 1304.5 L1935.2 1304.5 L1944.6 1300.1 L1963.4 1300.1 L1972.8 1255.5 L2179.9 1255.5 L3674.2 1255.5" stroke="#2585bb"/>
<path d="M243.2 2118.3 L807.2 2118.3 L816.6 2090.5 L1061.0 2090.5 L1070.4 2081.6 L1136.2 2081.6 L1145.6 2066.2 L1155.0 2056.6 L1286.6 2056.6 L1296.0 1992.3 L1427.6 1992.3 L1437.0 1969.5 L1465.2 1969.5 L1474.6 1947.2 L1484.0 1925.4 L1549.8 1925.4 L1559.2 1919.7 L1643.8 1919.7 L1653.2 1889.2 L1728.4 1889.2 L1737.8 1784.6 L1739.1 1784.6 L1752.3 1782.4 L1774.3 1778.0 L1809.5 1778.0 L1822.7 1773.6 L1888.8 1773.6 L1893.2 1744.9 L1913.0 1738.3 L1952.6 1736.1 L1961.4 1727.3 L3674.2 1728.5" stroke="#76c9c6"/>
</g>
<g stroke-width="20.8" stroke-linecap="square">
<path d="M243.2 2118.3 L803.0 2118.3 L815.5 2096.0 L824.4 1983.5 L845.9 1970.6 L850.2 1900.4 L864.5 1894.7 L867.4 1871.8 L876.0 1864.6 L901.8 1860.3 L918.9 1842.3 L1013.4 1842.3 L1032.9 1725.7 L1070.8 1724.9 L1079.2 1670.1 L1089.3 1665.9 L1096.0 1649.9 L1104.4 1647.4 L1114.6 1639.0 L1193.7 1638.1 L1200.5 1580.9 L1212.3 1578.3 L1219.0 1518.5 L1227.4 1508.4 L1249.3 1507.6 L1252.4 1496.0 L1266.5 1424.2 L1271.6 1419.1 L1294.6 1419.1 L1297.2 1408.9 L1303.6 1314.1 L1307.5 1312.3 L1335.6 1312.3 L1343.0 1265.0 L1350.0 1257.0 L1371.7 1256.0 L1379.4 1230.3 L1387.1 1226.5 L1399.9 1218.8 L1428.0 1217.5 L1435.7 1189.4 L1446.0 1183.0 L1463.9 1181.7 L1476.7 1176.6 L1494.6 1175.3 L1512.5 1135.6 L1522.8 1063.9 L1529.2 1005.0 L1540.7 1001.2 L1549.7 964.0 L1552.2 900.0 L1558.2 768.0 L1567.6 690.3 L1624.2 690.3 L1635.0 676.9 L1652.5 676.9 L1661.9 618.4 L1680.8 618.4 L1691.6 599.5 L1709.1 599.5 L1718.5 597.4 L1822.1 597.4 L1831.7 587.4 L1850.9 587.4 L1859.6 578.7 L1869.2 519.1 L1876.9 519.1 L1887.4 515.3 L1897.0 513.4 L2029.6 513.4 L2038.3 474.0 L2058.5 474.0 L2067.1 454.8 L3690.0 454.8" stroke="#08306b"/>
<path d="M243.2 2118.3 L1124.0 2118.3 L1136.0 2106.7 L1151.6 2106.2 L1161.2 2079.0 L1188.9 2077.8 L1200.9 2071.8 L1418.3 2071.8 L1426.7 1888.1 L1558.8 1887.6 L1569.6 1877.3 L3690.0 1877.3" stroke="#6baed6"/>
<path d="M243.2 2118.3 L350.0 2117.5 L420.0 2116.5 L482.0 2114.5 L520.0 2111.0 L568.0 2106.5 L634.7 2100.1 L696.2 2084.1 L747.5 2067.5 L800.0 2046.5 L844.1 2028.9 L880.1 2012.7 L940.2 1984.1 L988.2 1959.2 L1040.0 1929.0 L1076.6 1907.0 L1142.7 1857.5 L1208.7 1803.8 L1274.8 1746.6 L1300.0 1716.0 L1366.0 1662.4 L1432.1 1616.1 L1498.2 1578.7 L1564.2 1543.5 L1634.7 1499.4 L1696.3 1459.8 L1762.4 1415.8 L1828.4 1376.1 L1894.5 1347.5 L1960.5 1327.7 L2026.6 1312.3 L2092.6 1299.1 L2158.7 1288.5 L2207.1 1285.5 L2260.0 1285.0 L3690.0 1285.0" stroke="#2171b5"/>
<path d="M243.2 2118.3 L463.0 2118.3 L474.5 2100.0 L636.0 2100.0 L647.5 2094.0 L672.0 2094.0 L683.0 2090.2 L745.0 2090.2 L758.0 2062.5 L910.0 2062.5 L922.0 2060.0 L1019.4 2060.0 L1032.6 2053.5 L1056.8 2053.5 L1070.0 1993.2 L1083.2 1988.8 L1092.0 1962.4 L1228.5 1961.8 L1240.5 1951.7 L1258.5 1945.7 L1315.0 1945.3 L1323.4 1894.1 L1333.0 1892.9 L1378.6 1892.9 L1388.2 1876.1 L1397.8 1858.1 L1426.7 1858.1 L1431.5 1780.0 L1434.3 1728.4 L1493.7 1728.4 L1504.8 1717.4 L1513.6 1715.2 L1522.4 1702.0 L1559.8 1702.0 L1570.8 1697.6 L1588.4 1697.6 L1597.2 1640.3 L1793.2 1640.3 L1804.2 1620.5 L3608.7 1620.5" stroke="#000"/>
</g>
<circle cx="3608.7" cy="1620.5" r="22.7" fill="#000"/>
</g>
<rect x="196.4" y="270.4" width="3487.2" height="1847.9" fill="none" stroke="#fff" stroke-width="3.4"/>
<path d="M3683.6 2117.9 h14.6 M3683.6 1734.9 h14.6 M3683.6 1351.9 h14.6 M3683.6 968.9 h14.6 M3683.6 585.9 h14.6" stroke="#fff" stroke-width="3.33" fill="none"/>
<text transform="translate(609.1 95.0) scale(1.0449 1)" x="0.8 51.6 102.4 153.1 202.8 232.7 283.5 334.2 385.0 435.3 458.1 513.3 557.2 601.9 653.8 730.2 781.3 802.1 854.5 882.4 932.2 982.5 1003.4 1058.9 1108.6 1158.3 1224.5 1250.8 1301.0 1323.2 1344.5 1365.4 1412.3 1463.0 1494.5 1517.6 1579.4 1629.1 1678.8 1722.6 1771.5 1816.5 1857.1 1897.3 1953.5 2000.0 2045.3 2085.7 2128.2 2178.9 2210.7 2286.7 2312.1 2334.8 2415.4" y="0" font-size="88.3" fill="#fff">2020-2021 Accumulated Snowfall For Hancock_Exp_Farm, WI</text>
<text transform="translate(329.5 245.3) scale(1.0609 1)" x="-2.3 35.1 69.3 103.4 139.8 156.2 193.6 208.0 221.4 262.9 298.2 311.2 344.9 374.8 410.7 440.7 470.7 500.6 530.6 560.6 590.6 620.6 650.4 666.3 681.3 694.5 721.9 750.3 785.1 820.5 835.6 865.6 895.4 910.5 940.5 970.5 1000.5 1030.3 1046.2 1061.2 1074.5 1098.6 1136.3 1177.3 1212.6 1227.2 1244.8 1274.7 1304.6 1319.7 1349.7 1379.7 1409.7 1439.5 1455.4 1470.4 1482.5 1513.4 1538.5 1569.5 1607.6 1642.9 1658.0 1688.0 1718.0 1748.0 1779.1 1790.8 1806.7 1821.6 1833.1 1863.1 1893.1 1912.3 1924.4 1953.8 1987.8 2023.1 2038.2 2068.2 2098.2 2128.2 2157.6 2175.2 2205.2 2235.2 2265.1 2295.0 2310.9 2325.8 2338.0 2370.4 2399.3 2427.5 2452.8 2482.1 2511.9 2525.0 2547.2 2576.5 2590.4 2627.3 2658.4 2674.8 2704.1 2716.2 2749.4 2778.8 2808.2 2838.2 2858.6 2879.5 2914.8 2929.9 2959.9 2988.5" y="0" font-size="53.0" fill="#fff">GHCN-D ID= USC00473405 | LAT= 44.1186 | LON= -89.5358 | ELEV= 1091' | Period= 1903-2021 | Season To Date Report= 98%</text>
<text transform="translate(269.7 329.3) scale(1.0618 1)" x="-1.4 21.1 38.2 55.4 72.9 83.5 101.6 111.1 128.2 145.6 154.4 172.1 188.0 192.9 204.5 222.0 232.1 249.2 266.6 273.6 292.9 310.1 327.5 345.1 352.2 369.3 378.2 386.7 416.5 424.1 431.8 441.9 459.0 476.4 494.0 501.1 518.4 528.9 537.4 554.5 572.1 581.1 589.9 607.3 624.8 642.2 659.3 669.6 687.0 704.1 714.4 731.8 749.2 758.0 775.4 793.1 802.1 819.6 837.0 844.0 862.8 879.2 895.1 904.7 922.2 932.6 949.9 958.7 966.7 988.3 1006.3 1015.8 1032.9 1041.6 1059.0 1076.4 1086.1 1095.6 1112.7 1121.4 1138.9 1156.4 1173.8 1191.3 1208.7 1226.2 1243.6" y="0" font-size="30.9" fill="#fff">Generated by Jared Rennie (@jjrennie) on: 2021-09-28 08:37 Eastern. Data up to 20210924</text>
<text transform="translate(67.0 1580.1) rotate(-90) scale(1.0668 1)" x="-1.6 30.9 56.7 82.9 113.3 158.3 188.5 200.5 231.4 247.7 277.0 306.7 318.7 351.4 380.6 409.7 448.8 464.1 493.8 506.8 519.3 534.4 553.0 565.6 594.8 621.0 650.3 678.4 704.2" y="0" font-size="53.0" fill="#fff">Accumulated Snowfall (inches)</text>
<text transform="translate(3863.7 842.1) rotate(90) scale(1.0742 1)" x="-1.7 30.6 56.2 82.3 112.4 157.1 187.1 199.0 229.8 245.9 275.0 304.5 316.4 348.8 377.8 406.7 445.7 460.8 490.3 503.3 515.6 530.7 549.2 594.5 639.5" y="0" font-size="53.0" fill="#fff">Accumulated Snowfall (mm)</text>
<text transform="translate(119.9 2133.1) scale(1.1349 1)" x="-0.6 23.9" y="0" font-size="44.2" fill="#fff">0"</text>
<text transform="translate(93.4 1938.5) scale(1.1138 1)" x="-0.4 23.4 48.3" y="0" font-size="44.2" fill="#fff">10"</text>
<text transform="translate(93.4 1744.0) scale(1.1138 1)" x="-0.4 23.4 48.3" y="0" font-size="44.2" fill="#fff">20"</text>
<text transform="translate(93.4 1549.4) scale(1.1138 1)" x="-0.4 23.4 48.3" y="0" font-size="44.2" fill="#fff">30"</text>
<text transform="translate(93.4 1354.9) scale(1.1138 1)" x="-0.4 23.4 48.3" y="0" font-size="44.2" fill="#fff">40"</text>
<text transform="translate(93.4 1160.3) scale(1.1138 1)" x="-0.4 23.4 48.3" y="0" font-size="44.2" fill="#fff">50"</text>
<text transform="translate(93.4 965.7) scale(1.1138 1)" x="-0.4 23.4 48.3" y="0" font-size="44.2" fill="#fff">60"</text>
<text transform="translate(93.4 771.2) scale(1.1138 1)" x="-0.4 23.4 48.3" y="0" font-size="44.2" fill="#fff">70"</text>
<text transform="translate(93.4 576.6) scale(1.1138 1)" x="-0.4 23.4 48.3" y="0" font-size="44.2" fill="#fff">80"</text>
<text transform="translate(93.4 382.1) scale(1.1138 1)" x="-0.4 23.4 48.3" y="0" font-size="44.2" fill="#fff">90"</text>
<text transform="translate(3713.5 2133.3) scale(1.0792 1)" x="0.0" y="0" font-size="44.2" fill="#fff">0</text>
<text transform="translate(3713.0 1750.3) scale(1.0792 1)" x="0.0 24.5 49.1" y="0" font-size="44.2" fill="#fff">500</text>
<text transform="translate(3711.6 1367.3) scale(1.0792 1)" x="0.0 24.5 49.1 73.6" y="0" font-size="44.2" fill="#fff">1000</text>
<text transform="translate(3711.6 984.3) scale(1.0792 1)" x="0.0 24.5 49.1 73.6" y="0" font-size="44.2" fill="#fff">1500</text>
<text transform="translate(3713.2 601.3) scale(1.0792 1)" x="0.0 24.5 49.1 73.6" y="0" font-size="44.2" fill="#fff">2000</text>
<text transform="translate(187.6 2178.5) scale(1.0592 1)" x="-1.7 30.7 54.1 68.1 80.7" y="0" font-size="44.2" fill="#fff">Oct 1</text>
<text transform="translate(473.5 2178.5) scale(1.0493 1)" x="-1.1 29.5 54.7 77.6 90.4" y="0" font-size="44.2" fill="#fff">Nov 1</text>
<text transform="translate(746.5 2178.5) scale(1.0433 1)" x="-0.6 30.7 55.2 77.4 90.3" y="0" font-size="44.2" fill="#fff">Dec 1</text>
<text transform="translate(1049.2 2178.5) scale(0.9624 1)" x="-4.7 13.7 40.7 67.4 81.9" y="0" font-size="44.2" fill="#fff">Jan 1</text>
<text transform="translate(1323.3 2178.5) scale(1.0253 1)" x="-1.8 21.4 46.7 72.2 85.5" y="0" font-size="44.2" fill="#fff">Feb 1</text>
<text transform="translate(1612.3 2178.5) scale(1.0484 1)" x="-1.3 34.2 59.4 75.1 87.9" y="0" font-size="44.2" fill="#fff">Mar 1</text>
<text transform="translate(1899.4 2178.5) scale(1.0594 1)" x="-1.3 27.1 52.6 68.1 80.7" y="0" font-size="44.2" fill="#fff">Apr 1</text>
<text transform="translate(2181.9 2178.5) scale(1.0467 1)" x="-1.2 34.2 59.4 82.4 95.2" y="0" font-size="44.2" fill="#fff">May 1</text>
<text transform="translate(2486.9 2178.5) scale(0.9705 1)" x="-4.7 14.0 41.2 67.7 82.0" y="0" font-size="44.2" fill="#fff">Jun 1</text>
<text transform="translate(2776.3 2178.5) scale(0.9649 1)" x="-4.7 14.1 41.2 52.8 67.2" y="0" font-size="44.2" fill="#fff">Jul 1</text>
<text transform="translate(3051.0 2178.5) scale(1.0493 1)" x="-1.1 27.4 52.6 77.6 90.4" y="0" font-size="44.2" fill="#fff">Aug 1</text>
<text transform="translate(3333.2 2178.5) scale(1.0248 1)" x="-1.8 26.0 51.4 76.9 90.1" y="0" font-size="44.2" fill="#fff">Sep 1</text>
<rect x="195.6" y="2217.6" width="3486.9" height="88.8" rx="9" ry="9" fill="#666666" stroke="#b2b2b2" stroke-width="3.4"/>
<rect x="205.9" y="2248.8" width="121.1" height="20.9" fill="#08306b"/>
<text transform="translate(358.3 2277.4) scale(1.0799 1)" x="-2.0 39.4 68.8 95.7 110.7 128.5 158.0 187.5 216.9 245.9 263.1 292.5 322.0 351.5 381.1 399.4 414.6 429.3 444.0 458.7 488.2 517.6 532.4 563.1" y="0" font-size="53.0" fill="#fff">Max (2007-2008):   85.5"</text>
<rect x="1078.5" y="2248.8" width="121.1" height="20.9" fill="#6baed6"/>
<text transform="translate(1231.4 2277.4) scale(1.0820 1)" x="-2.1 40.4 52.6 82.0 96.9 114.7 144.1 173.5 202.9 231.9 249.0 278.4 307.8 337.2 366.8 385.1 400.2 414.9 429.6 444.3 473.7 503.1 517.7 548.4" y="0" font-size="53.0" fill="#fff">Min (1902-1903):   12.3"</text>
<rect x="1937.5" y="2248.8" width="120.3" height="20.9" fill="#2171b5"/>
<text transform="translate(2091.3 2277.4) scale(1.0827 1)" x="-1.8 29.4 56.2 85.6 100.5 118.3 147.6 177.0 206.4 235.3 252.4 281.8 311.2 340.6 370.2 388.4 403.6 418.2 432.9 447.6 477.0 506.4 521.0 551.7" y="0" font-size="53.0" fill="#fff">Avg (1991-2020):   43.1"</text>
<rect x="2798.5" y="2248.8" width="121.1" height="20.9" fill="#000"/>
<text transform="translate(2951.9 2277.4) scale(1.0857 1)" x="-3.0 32.0 62.0 80.1 96.8 125.6 156.6 172.9 187.8 205.5 234.8 264.1 293.4 322.2 339.3 368.6 397.9 427.2 456.7 474.9 490.0 504.7 519.3 533.9 563.2 592.5 607.1 637.7" y="0" font-size="53.0" fill="#fff">Current (2020-2021):   25.6"</text>
</svg></body></html>
